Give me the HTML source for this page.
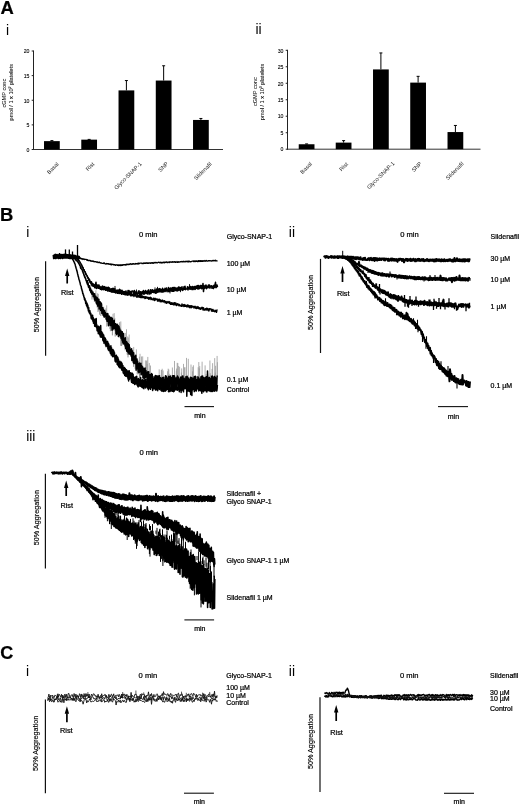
<!DOCTYPE html>
<html><head><meta charset="utf-8"><style>
html,body{margin:0;padding:0;background:#fff;}
svg{display:block;will-change:transform;}
text{font-family:"Liberation Sans",sans-serif;stroke:#000;stroke-width:0.22px;}
</style></head><body>
<svg width="520" height="806" viewBox="0 0 520 806">
<rect width="520" height="806" fill="#fff"/>
<text x="0.6" y="13.9" font-size="18.4" text-anchor="start" font-weight="bold" fill="#000">A</text>
<text x="-0.1" y="220.6" font-size="18.4" text-anchor="start" font-weight="bold" fill="#000">B</text>
<text x="0.2" y="658.7" font-size="18" text-anchor="start" font-weight="bold" fill="#000">C</text>
<text x="5.9" y="34.6" font-size="13.9" text-anchor="start" font-weight="normal" fill="#000" style="stroke:none">i</text>
<text x="255.5" y="33.9" font-size="13.9" text-anchor="start" font-weight="normal" fill="#000" style="stroke:none">ii</text>
<text x="26.3" y="237.3" font-size="13.9" text-anchor="start" font-weight="normal" fill="#000" style="stroke:none">i</text>
<text x="288.8" y="237.4" font-size="13.9" text-anchor="start" font-weight="normal" fill="#000" style="stroke:none">ii</text>
<text x="26.2" y="441.1" font-size="13.9" text-anchor="start" font-weight="normal" fill="#000" style="stroke:none">iii</text>
<text x="25.9" y="675.7" font-size="13.9" text-anchor="start" font-weight="normal" fill="#000" style="stroke:none">i</text>
<text x="288.8" y="675.7" font-size="13.9" text-anchor="start" font-weight="normal" fill="#000" style="stroke:none">ii</text>
<line x1="33.5" y1="50.5" x2="33.5" y2="150" stroke="#222" stroke-width="1"/>
<line x1="33" y1="149.5" x2="223" y2="149.5" stroke="#333" stroke-width="1"/>
<line x1="31.7" y1="149.5" x2="33.5" y2="149.5" stroke="#222" stroke-width="1"/>
<text x="29.5" y="151.75" font-size="6.2" text-anchor="end" font-weight="normal" fill="#000" textLength="2.9" lengthAdjust="spacingAndGlyphs" style="stroke-width:0.1px">0</text>
<line x1="31.7" y1="124.88" x2="33.5" y2="124.88" stroke="#222" stroke-width="1"/>
<text x="29.5" y="127.12" font-size="6.2" text-anchor="end" font-weight="normal" fill="#000" textLength="2.9" lengthAdjust="spacingAndGlyphs" style="stroke-width:0.1px">5</text>
<line x1="31.7" y1="100.25" x2="33.5" y2="100.25" stroke="#222" stroke-width="1"/>
<text x="29.5" y="102.5" font-size="6.2" text-anchor="end" font-weight="normal" fill="#000" textLength="5.8" lengthAdjust="spacingAndGlyphs" style="stroke-width:0.1px">10</text>
<line x1="31.7" y1="75.62" x2="33.5" y2="75.62" stroke="#222" stroke-width="1"/>
<text x="29.5" y="77.88" font-size="6.2" text-anchor="end" font-weight="normal" fill="#000" textLength="5.8" lengthAdjust="spacingAndGlyphs" style="stroke-width:0.1px">15</text>
<line x1="31.7" y1="51" x2="33.5" y2="51" stroke="#222" stroke-width="1"/>
<text x="29.5" y="53.25" font-size="6.2" text-anchor="end" font-weight="normal" fill="#000" textLength="5.8" lengthAdjust="spacingAndGlyphs" style="stroke-width:0.1px">20</text>
<rect x="44.02" y="141.13" width="15.75" height="8.37" fill="#000"/>
<line x1="51.9" y1="140.63" x2="51.9" y2="141.13" stroke="#000" stroke-width="1"/>
<line x1="50.4" y1="140.63" x2="53.4" y2="140.63" stroke="#000" stroke-width="1"/>
<text transform="translate(54.2 169.45) rotate(-45)" font-size="5.6" text-anchor="middle" font-weight="normal" fill="#222" style="stroke:none">Basal</text>
<rect x="81.28" y="139.65" width="15.75" height="9.85" fill="#000"/>
<line x1="89.15" y1="139.4" x2="89.15" y2="139.65" stroke="#000" stroke-width="1"/>
<line x1="87.65" y1="139.4" x2="90.65" y2="139.4" stroke="#000" stroke-width="1"/>
<text transform="translate(91.45 167.95) rotate(-45)" font-size="5.6" text-anchor="middle" font-weight="normal" fill="#222" style="stroke:none">Rist</text>
<rect x="118.53" y="90.4" width="15.75" height="59.1" fill="#000"/>
<line x1="126.4" y1="80.55" x2="126.4" y2="90.4" stroke="#000" stroke-width="1"/>
<line x1="124.9" y1="80.55" x2="127.9" y2="80.55" stroke="#000" stroke-width="1"/>
<text transform="translate(129.3 177.1) rotate(-45)" font-size="5.6" text-anchor="middle" font-weight="normal" fill="#222" style="stroke:none">Glyco-SNAP-1</text>
<rect x="155.78" y="80.55" width="15.75" height="68.95" fill="#000"/>
<line x1="163.65" y1="65.78" x2="163.65" y2="80.55" stroke="#000" stroke-width="1"/>
<line x1="162.15" y1="65.78" x2="165.15" y2="65.78" stroke="#000" stroke-width="1"/>
<text transform="translate(164.6 168.1) rotate(-45)" font-size="5.6" text-anchor="middle" font-weight="normal" fill="#222" style="stroke:none">SNP</text>
<rect x="193.03" y="119.95" width="15.75" height="29.55" fill="#000"/>
<line x1="200.9" y1="118.47" x2="200.9" y2="119.95" stroke="#000" stroke-width="1"/>
<line x1="199.4" y1="118.47" x2="202.4" y2="118.47" stroke="#000" stroke-width="1"/>
<text transform="translate(204.2 172.45) rotate(-45)" font-size="5.6" text-anchor="middle" font-weight="normal" fill="#222" style="stroke:none">Sildenafil</text>
<line x1="287.5" y1="49.8" x2="287.5" y2="149.7" stroke="#222" stroke-width="1"/>
<line x1="287" y1="149.2" x2="480.5" y2="149.2" stroke="#333" stroke-width="1"/>
<line x1="285.7" y1="149.2" x2="287.5" y2="149.2" stroke="#222" stroke-width="1"/>
<text x="283.5" y="151.45" font-size="6.2" text-anchor="end" font-weight="normal" fill="#000" textLength="2.9" lengthAdjust="spacingAndGlyphs" style="stroke-width:0.1px">0</text>
<line x1="285.7" y1="132.72" x2="287.5" y2="132.72" stroke="#222" stroke-width="1"/>
<text x="283.5" y="134.97" font-size="6.2" text-anchor="end" font-weight="normal" fill="#000" textLength="2.9" lengthAdjust="spacingAndGlyphs" style="stroke-width:0.1px">5</text>
<line x1="285.7" y1="116.23" x2="287.5" y2="116.23" stroke="#222" stroke-width="1"/>
<text x="283.5" y="118.48" font-size="6.2" text-anchor="end" font-weight="normal" fill="#000" textLength="5.8" lengthAdjust="spacingAndGlyphs" style="stroke-width:0.1px">10</text>
<line x1="285.7" y1="99.75" x2="287.5" y2="99.75" stroke="#222" stroke-width="1"/>
<text x="283.5" y="102" font-size="6.2" text-anchor="end" font-weight="normal" fill="#000" textLength="5.8" lengthAdjust="spacingAndGlyphs" style="stroke-width:0.1px">15</text>
<line x1="285.7" y1="83.27" x2="287.5" y2="83.27" stroke="#222" stroke-width="1"/>
<text x="283.5" y="85.52" font-size="6.2" text-anchor="end" font-weight="normal" fill="#000" textLength="5.8" lengthAdjust="spacingAndGlyphs" style="stroke-width:0.1px">20</text>
<line x1="285.7" y1="66.78" x2="287.5" y2="66.78" stroke="#222" stroke-width="1"/>
<text x="283.5" y="69.03" font-size="6.2" text-anchor="end" font-weight="normal" fill="#000" textLength="5.8" lengthAdjust="spacingAndGlyphs" style="stroke-width:0.1px">25</text>
<line x1="285.7" y1="50.3" x2="287.5" y2="50.3" stroke="#222" stroke-width="1"/>
<text x="283.5" y="52.55" font-size="6.2" text-anchor="end" font-weight="normal" fill="#000" textLength="5.8" lengthAdjust="spacingAndGlyphs" style="stroke-width:0.1px">30</text>
<rect x="298.73" y="144.25" width="15.75" height="4.94" fill="#000"/>
<line x1="306.6" y1="143.93" x2="306.6" y2="144.25" stroke="#000" stroke-width="1"/>
<line x1="305.1" y1="143.93" x2="308.1" y2="143.93" stroke="#000" stroke-width="1"/>
<text transform="translate(307.5 169.2) rotate(-45)" font-size="5.6" text-anchor="middle" font-weight="normal" fill="#222" style="stroke:none">Basal</text>
<rect x="335.73" y="142.61" width="15.75" height="6.59" fill="#000"/>
<line x1="343.6" y1="140.63" x2="343.6" y2="142.61" stroke="#000" stroke-width="1"/>
<line x1="342.1" y1="140.63" x2="345.1" y2="140.63" stroke="#000" stroke-width="1"/>
<text transform="translate(344.85 168.05) rotate(-45)" font-size="5.6" text-anchor="middle" font-weight="normal" fill="#222" style="stroke:none">Rist</text>
<rect x="373.02" y="69.42" width="15.75" height="79.78" fill="#000"/>
<line x1="380.9" y1="52.94" x2="380.9" y2="69.42" stroke="#000" stroke-width="1"/>
<line x1="379.4" y1="52.94" x2="382.4" y2="52.94" stroke="#000" stroke-width="1"/>
<text transform="translate(382 176.75) rotate(-45)" font-size="5.6" text-anchor="middle" font-weight="normal" fill="#222" style="stroke:none">Glyco-SNAP-1</text>
<rect x="410.23" y="82.61" width="15.75" height="66.59" fill="#000"/>
<line x1="418.1" y1="76.34" x2="418.1" y2="82.61" stroke="#000" stroke-width="1"/>
<line x1="416.6" y1="76.34" x2="419.6" y2="76.34" stroke="#000" stroke-width="1"/>
<text transform="translate(418 168.1) rotate(-45)" font-size="5.6" text-anchor="middle" font-weight="normal" fill="#222" style="stroke:none">SNP</text>
<rect x="447.52" y="132.06" width="15.75" height="17.14" fill="#000"/>
<line x1="455.4" y1="125.46" x2="455.4" y2="132.06" stroke="#000" stroke-width="1"/>
<line x1="453.9" y1="125.46" x2="456.9" y2="125.46" stroke="#000" stroke-width="1"/>
<text transform="translate(456.1 172.2) rotate(-45)" font-size="5.6" text-anchor="middle" font-weight="normal" fill="#222" style="stroke:none">Sildenafil</text>
<text transform="translate(6.3 93.2) rotate(-90)" font-size="5.6" text-anchor="middle" font-weight="normal" fill="#111" style="stroke-width:0.05px">cGMP conc</text>
<text transform="translate(12.6 92.2) rotate(-90)" font-size="5.6" text-anchor="middle" font-weight="normal" fill="#111" style="stroke-width:0.05px">pmol / 1 x 10<tspan dy="-2" font-size="3.6">9</tspan><tspan dy="2"> platelets</tspan></text>
<text transform="translate(257 91.7) rotate(-90)" font-size="5.6" text-anchor="middle" font-weight="normal" fill="#111" style="stroke-width:0.05px">cGMP conc</text>
<text transform="translate(263.9 92) rotate(-90)" font-size="5.6" text-anchor="middle" font-weight="normal" fill="#111" style="stroke-width:0.05px">pmol / 1 x 10<tspan dy="-2" font-size="3.6">9</tspan><tspan dy="2"> platelets</tspan></text>
<line x1="45.6" y1="261.2" x2="45.6" y2="355.7" stroke="#111" stroke-width="1.2"/>
<text transform="translate(38.6 304.7) rotate(-90)" font-size="7.25" text-anchor="middle" font-weight="normal" fill="#000" style="stroke-width:0.15px">50% Aggregation</text>
<path d="M67.2 268.4 L65 275.9 L69.4 275.9 Z" fill="#000"/>
<line x1="67.2" y1="275.4" x2="67.2" y2="283.5" stroke="#000" stroke-width="1.7"/>
<text x="61" y="294.7" font-size="7.3" text-anchor="start" font-weight="normal" fill="#000">Rist</text>
<text x="139" y="237.1" font-size="7.6" text-anchor="start" font-weight="normal" fill="#000">0 min</text>
<line x1="184.5" y1="406.6" x2="214" y2="406.6" stroke="#111" stroke-width="1.1"/>
<text x="199.9" y="417.7" font-size="7" text-anchor="middle" font-weight="normal" fill="#000">min</text>
<line x1="320.5" y1="258.9" x2="320.5" y2="353" stroke="#111" stroke-width="1.2"/>
<text transform="translate(313.4 302.5) rotate(-90)" font-size="7.25" text-anchor="middle" font-weight="normal" fill="#000" style="stroke-width:0.15px">50% Aggregation</text>
<path d="M342.5 266.1 L340.3 273.6 L344.7 273.6 Z" fill="#000"/>
<line x1="342.5" y1="273.1" x2="342.5" y2="282" stroke="#000" stroke-width="1.7"/>
<text x="336.9" y="296.2" font-size="7.3" text-anchor="start" font-weight="normal" fill="#000">Rist</text>
<text x="400.2" y="237" font-size="7.6" text-anchor="start" font-weight="normal" fill="#000">0 min</text>
<line x1="438" y1="406.6" x2="468" y2="406.6" stroke="#111" stroke-width="1.1"/>
<text x="453.4" y="418.5" font-size="7" text-anchor="middle" font-weight="normal" fill="#000">min</text>
<line x1="45.4" y1="473.8" x2="45.4" y2="568.6" stroke="#111" stroke-width="1.2"/>
<text transform="translate(38.6 517.7) rotate(-90)" font-size="7.25" text-anchor="middle" font-weight="normal" fill="#000" style="stroke-width:0.15px">50% Aggregation</text>
<path d="M66.2 480.5 L64 488 L68.4 488 Z" fill="#000"/>
<line x1="66.2" y1="487.5" x2="66.2" y2="496" stroke="#000" stroke-width="1.7"/>
<text x="60.4" y="507.5" font-size="7.3" text-anchor="start" font-weight="normal" fill="#000">Rist</text>
<text x="139.4" y="455" font-size="7.6" text-anchor="start" font-weight="normal" fill="#000">0 min</text>
<line x1="184.4" y1="619.9" x2="214.1" y2="619.9" stroke="#111" stroke-width="1.1"/>
<text x="199.8" y="630.5" font-size="7" text-anchor="middle" font-weight="normal" fill="#000">min</text>
<line x1="45.4" y1="699.4" x2="45.4" y2="793.3" stroke="#111" stroke-width="1.2"/>
<text transform="translate(38.2 743.3) rotate(-90)" font-size="7.25" text-anchor="middle" font-weight="normal" fill="#000" style="stroke-width:0.15px">50% Aggregation</text>
<path d="M66.9 706.3 L64.7 713.8 L69.1 713.8 Z" fill="#000"/>
<line x1="66.9" y1="713.3" x2="66.9" y2="722.3" stroke="#000" stroke-width="1.7"/>
<text x="60" y="733.3" font-size="7.3" text-anchor="start" font-weight="normal" fill="#000">Rist</text>
<text x="138.6" y="677.5" font-size="7.6" text-anchor="start" font-weight="normal" fill="#000">0 min</text>
<line x1="184" y1="793.2" x2="213.9" y2="793.2" stroke="#111" stroke-width="1.1"/>
<text x="199.3" y="804.3" font-size="7" text-anchor="middle" font-weight="normal" fill="#000">min</text>
<line x1="320" y1="697.2" x2="320" y2="792" stroke="#111" stroke-width="1.2"/>
<text transform="translate(313.2 741.5) rotate(-90)" font-size="7.25" text-anchor="middle" font-weight="normal" fill="#000" style="stroke-width:0.15px">50% Aggregation</text>
<path d="M336.2 705 L334 712.5 L338.4 712.5 Z" fill="#000"/>
<line x1="336.2" y1="712" x2="336.2" y2="721" stroke="#000" stroke-width="1.7"/>
<text x="330.3" y="735" font-size="7.3" text-anchor="start" font-weight="normal" fill="#000">Rist</text>
<text x="400" y="678" font-size="7.6" text-anchor="start" font-weight="normal" fill="#000">0 min</text>
<line x1="444" y1="793.3" x2="474" y2="793.3" stroke="#111" stroke-width="1.1"/>
<text x="459.2" y="804.3" font-size="7" text-anchor="middle" font-weight="normal" fill="#000">min</text>
<text x="226.7" y="239.2" font-size="7" text-anchor="start" font-weight="normal" fill="#000">Glyco-SNAP-1</text>
<text x="226.7" y="266.2" font-size="7" text-anchor="start" font-weight="normal" fill="#000">100 µM</text>
<text x="226.7" y="292.1" font-size="7" text-anchor="start" font-weight="normal" fill="#000">10 µM</text>
<text x="226.7" y="315.2" font-size="7" text-anchor="start" font-weight="normal" fill="#000">1 µM</text>
<text x="226.7" y="381.5" font-size="7" text-anchor="start" font-weight="normal" fill="#000">0.1 µM</text>
<text x="226.7" y="391.7" font-size="7" text-anchor="start" font-weight="normal" fill="#000">Control</text>
<text x="490.6" y="239" font-size="7" text-anchor="start" font-weight="normal" fill="#000">Sildenafil</text>
<text x="490.6" y="261.3" font-size="7" text-anchor="start" font-weight="normal" fill="#000">30 µM</text>
<text x="490.6" y="282" font-size="7" text-anchor="start" font-weight="normal" fill="#000">10 µM</text>
<text x="490.6" y="308.6" font-size="7" text-anchor="start" font-weight="normal" fill="#000">1 µM</text>
<text x="490.6" y="388" font-size="7" text-anchor="start" font-weight="normal" fill="#000">0.1 µM</text>
<text x="226.6" y="495.9" font-size="7" text-anchor="start" font-weight="normal" fill="#000">Sildenafil  +</text>
<text x="226.6" y="504.2" font-size="7" text-anchor="start" font-weight="normal" fill="#000">Glyco SNAP-1</text>
<text x="226.6" y="563" font-size="7" text-anchor="start" font-weight="normal" fill="#000">Glyco SNAP-1 1 µM</text>
<text x="226.6" y="600" font-size="7" text-anchor="start" font-weight="normal" fill="#000">Sildenafil 1 µM</text>
<text x="226.3" y="677.7" font-size="7" text-anchor="start" font-weight="normal" fill="#000">Glyco-SNAP-1</text>
<text x="226.3" y="690.4" font-size="7" text-anchor="start" font-weight="normal" fill="#000">100 µM</text>
<text x="226.3" y="697.5" font-size="7" text-anchor="start" font-weight="normal" fill="#000">10 µM</text>
<text x="226.3" y="705.2" font-size="7" text-anchor="start" font-weight="normal" fill="#000">Control</text>
<text x="490" y="678" font-size="7" text-anchor="start" font-weight="normal" fill="#000">Sildenafil</text>
<text x="490" y="695" font-size="7" text-anchor="start" font-weight="normal" fill="#000">30 µM</text>
<text x="490" y="701.3" font-size="7" text-anchor="start" font-weight="normal" fill="#000">10 µM</text>
<text x="490" y="711.3" font-size="7" text-anchor="start" font-weight="normal" fill="#000">Control</text>
<path d="M53.5 254.99 53.85 258.29 54.2 255.19 54.55 257.88 54.9 255.16 55.25 254.62 55.6 258.36 55.95 255.1 56.3 255.03 56.65 257.88 57 254.79 57.35 257.67 57.7 255.31 58.05 257.95 58.4 255.17 58.75 258.28 59.1 254.8 59.45 258.05 59.8 254.86 60.15 256.82 60.5 258.23 60.85 254.66 61.2 257.75 61.55 254.88 61.9 257.75 62.25 255.02 62.6 258.24 62.95 254.68 63.3 254.78 63.65 257.67 64 255.09 64.35 257.76 64.7 254.6 65.05 255.26 65.4 257.84 65.75 255.11 66.1 257.72 66.45 254.74 66.8 254.93 67.15 257.82 67.5 255.06 67.85 257.79 68.2 255 68.55 257.94 68.9 257.81 69.25 255.43 69.6 258.23 69.95 255.07 70.3 258.07 70.65 258.3 71 255.41 71.35 257.92 71.7 255.53 72.05 258.09 72.4 255.22 72.75 257.9 73.1 255.86 73.45 258.18 73.8 255.42 74.15 258.38 74.5 255.7 74.85 257.9 75.2 255.77 75.55 256.83 75.9 256.25 76.25 258.15 76.6 256.42 76.95 258.34 77.3 258.3 77.65 256.26 78 258.34 78.35 256.64 78.7 258.38 79.05 256.78 79.4 258.15 79.75 256.87" fill="none" stroke="#000" stroke-width="2" stroke-linejoin="round"/>
<line x1="65.5" y1="256" x2="65.5" y2="249.4" stroke="#000" stroke-width="1.3"/>
<line x1="69.3" y1="256" x2="69.3" y2="249.6" stroke="#000" stroke-width="1.3"/>
<line x1="77.5" y1="256" x2="77.5" y2="245" stroke="#000" stroke-width="1.3"/>
<line x1="72.5" y1="256" x2="72.5" y2="251.5" stroke="#000" stroke-width="1.3"/>
<line x1="59.5" y1="256" x2="59.5" y2="253" stroke="#000" stroke-width="1.3"/>
<path d="M74 256.67 74.5 256.77 75 257.37 75.5 257.44 76 257.34 76.5 258 77 258 77.5 257.36 78 258.12 78.5 257.66 79 258.02 79.5 258.4 80 258.17 80.5 258.19 81 258.88 81.5 258.43 82 259.06 82.5 258.64 83 259.49 83.5 258.92 84 258.9 84.5 259.52 85 259.29 85.5 259.34 86 259.43 86.5 259.67 87 260.2 87.5 259.65 88 260.51 88.5 260.6 89 260.3 89.5 260.64 90 260.47 90.5 260.61 91 261.31 91.5 261.06 92 260.86 92.5 261.31 93 260.98 93.5 261.52 94 261.4 94.5 261.51 95 261.92 95.5 261.54 96 261.56 96.5 262.22 97 261.95 97.5 261.85 98 262.69 98.5 262.56 99 262.14 99.5 262.22 100 262.85 100.5 263.09 101 262.7 101.5 263.12 102 263.28 102.5 263.37 103 263.43 103.5 262.97 104 263.5 104.5 263.04 105 263.68 105.5 263.99 106 263.93 106.5 263.54 107 263.97 107.5 263.64 108 263.76 108.5 263.75 109 264.41 109.5 264.11 110 263.9 110.5 264.47 111 264.04 111.5 264.88 112 264.14 112.5 264.3 113 264.54 113.5 264.5 114 265.05 114.5 264.53 115 264.67 115.5 265.27 116 265.14 116.5 264.79 117 264.75 117.5 265.3 118 264.94 118.5 265.53 119 264.76 119.5 265.49 120 264.88 120.5 265.52 121 264.69 121.5 265.49 122 264.86 122.5 265.26 123 264.73 123.5 264.61 124 265.06 124.5 264.71 125 264.53 125.5 265.06 126 264.92 126.5 264.19 127 264.82 127.5 264.33 128 264.08 128.5 264.67 129 264.16 129.5 264.49 130 263.8 130.5 263.74 131 264.44 131.5 263.87 132 264.36 132.5 263.79 133 264.12 133.5 263.58 134 264.05 134.5 263.99 135 264.18 135.5 263.55 136 263.99 136.5 263.54 137 263.74 137.5 263.42 138 264.01 138.5 263.18 139 263.91 139.5 263.37 140 263.12 140.5 263.18 141 263.16 141.5 263.03 142 263.56 142.5 263.61 143 263.13 143.5 263.52 144 262.98 144.5 263.39 145 263.03 145.5 263.44 146 262.91 146.5 262.78 147 263.45 147.5 263.4 148 262.68 148.5 263.23 149 263.17 149.5 262.79 150 263.14 150.5 263.27 151 262.66 151.5 262.8 152 263.26 152.5 262.6 153 263.11 153.5 263.27 154 262.43 154.5 262.63 155 262.93 155.5 262.34 156 262.89 156.5 262.36 157 262.9 157.5 262.9 158 262.37 158.5 262.21 159 262.52 159.5 262.74 160 262.23 160.5 262.79 161 262.34 161.5 262.95 162 262.31 162.5 262.82 163 262.89 163.5 262.07 164 262.07 164.5 262.74 165 261.99 165.5 262.17 166 262.65 166.5 261.94 167 261.88 167.5 262.69 168 262.67 168.5 262.11 169 261.99 169.5 262.45 170 261.77 170.5 261.92 171 262.32 171.5 262.02 172 262.3 172.5 261.71 173 262.16 173.5 261.89 174 262.23 174.5 261.72 175 261.77 175.5 262.38 176 262.11 176.5 262.22 177 261.54 177.5 262.32 178 262.28 178.5 261.72 179 262.21 179.5 262.15 180 261.56 180.5 261.68 181 261.91 181.5 261.38 182 261.85 182.5 261.5 183 261.87 183.5 261.31 184 261.87 184.5 261.76 185 261.39 185.5 261.8 186 261.23 186.5 261.36 187 261.88 187.5 261.24 188 261.92 188.5 261.13 189 261.71 189.5 261.19 190 261.69 190.5 261.82 191 261.54 191.5 261.62 192 261.08 192.5 261.1 193 261.02 193.5 261.58 194 261.05 194.5 261.61 195 261.05 195.5 261.55 196 260.87 196.5 261.34 197 260.98 197.5 261.6 198 261.59 198.5 260.69 199 261.22 199.5 260.71 200 261.51 200.5 260.65 201 261.39 201.5 260.7 202 261.36 202.5 260.7 203 261.35 203.5 260.69 204 261.11 204.5 261.05 205 260.49 205.5 261.25 206 261.03 206.5 260.47 207 261.04 207.5 261.14 208 261.03 208.5 260.63 209 260.93 209.5 260.64 210 260.86 210.5 260.84 211 260.59 211.5 261.08 212 260.95 212.5 260.52 213 260.92 213.5 260.34 214 260.88 214.5 260.43 215 260.83 215.5 260.16 216 260.78 216.5 260.8 217 260.94 217.5 260.67" fill="none" stroke="#000" stroke-width="1.3" stroke-linejoin="round"/>
<path d="M77.5 258.62 V255.83M84 269.64 V271.42M93.5 284.18 V286.83M100.5 289.29 V286.57M110.5 291.48 V288.49M115 288.73 V285.96M130.5 291.54 V294.25M131 295.17 V296.54M136.5 291.7 V289.48M149 292.91 V295.08M153 292.18 V290.81M155 289.78 V287.42M157.5 290.15 V286.87M170 290.76 V293.46M171 290.75 V288.61M180.5 290.41 V292.18M189.5 286.99 V284.09" stroke="#000" stroke-width="0.9" fill="none"/>
<path d="M75 257.32 75.5 257.83 76 257.96 76.5 257.87 77 258.54 77.5 258.62 78 259.58 78.5 259.86 79 261.02 79.5 261.48 80 262.66 80.5 263.19 81 264.56 81.5 264.82 82 266.3 82.5 266.8 83 267.69 83.5 269.35 84 269.64 84.5 271.49 85 271.8 85.5 273.45 86 274.42 86.5 275.34 87 275.76 87.5 276.61 88 278.26 88.5 278.3 89 280.22 89.5 279.62 90 282.48 90.5 282.84 91 281.7 91.5 282.01 92 285.69 92.5 283.39 93 286.1 93.5 284.18 94 284.77 94.5 287.17 95 287.98 95.5 284.34 96 282.19 96.5 288.5 97 284.98 97.5 287.82 98 285.01 98.5 288.29 99 285.11 99.5 288.45 100 286.57 100.5 289.29 101 288.43 101.5 289.74 102 286.51 102.5 286.05 103 288.81 103.5 289.7 104 286.54 104.5 289.27 105 286.87 105.5 289.51 106 287.56 106.5 290.08 107 287.28 107.5 288.16 108 290.12 108.5 287.34 109 291.19 109.5 288.08 110 290.72 110.5 291.48 111 291.23 111.5 288.73 112 292.1 112.5 289.11 113 288.25 113.5 292 114 288.7 114.5 292.31 115 288.73 115.5 292.82 116 292.99 116.5 292.02 117 290.06 117.5 293.26 118 290.21 118.5 290.28 119 293.44 119.5 289.29 120 289.59 120.5 293.28 121 290.55 121.5 294.25 122 290.15 122.5 293.85 123 291.49 123.5 293.31 124 291.64 124.5 294.61 125 291.39 125.5 293.51 126 290.91 126.5 293.64 127 294.23 127.5 294.91 128 290.55 128.5 293.81 129 290.51 129.5 291.38 130 294.34 130.5 291.54 131 295.17 131.5 291.61 132 290.91 132.5 291.12 133 291.03 133.5 293.78 134 294.51 134.5 290.55 135 294.59 135.5 291.91 136 293.76 136.5 291.7 137 294.94 137.5 293.74 138 293.79 138.5 291.18 139 290.8 139.5 294.46 140 296.42 140.5 291.84 141 291.8 141.5 294.46 142 293.99 142.5 291.39 143 293.78 143.5 290.5 144 294.48 144.5 291.75 145 293.58 145.5 290.39 146 291.07 146.5 293.45 147 291.49 147.5 293.97 148 290.43 148.5 289.92 149 292.91 149.5 293.79 150 293.85 150.5 289.7 151 293.6 151.5 290.21 152 292.34 152.5 289.76 153 292.18 153.5 290.55 154 292.68 154.5 290.38 155 289.78 155.5 293.2 156 290.11 156.5 292.99 157 288.67 157.5 290.15 158 292.2 158.5 288.97 159 288.87 159.5 291.79 160 288.63 160.5 291.81 161 289.48 161.5 291.92 162 292.01 162.5 288.3 163 291.96 163.5 289.38 164 291.7 164.5 291.28 165 288.23 165.5 289.21 166 291.59 166.5 287.94 167 290.52 167.5 290.42 168 291.73 168.5 287.57 169 288.63 169.5 291.61 170 290.76 170.5 287.96 171 290.75 171.5 288.15 172 291.29 172.5 287.63 173 291.26 173.5 287.53 174 291.15 174.5 287.6 175 287.62 175.5 290.48 176 288.26 176.5 290.69 177 287.97 177.5 290.87 178 288.04 178.5 287 179 290.47 179.5 287.18 180 287.81 180.5 290.41 181 287.4 181.5 289.55 182 286.77 182.5 290.49 183 289.15 183.5 289.62 184 286.67 184.5 289.31 185 286.23 185.5 289.71 186 288.9 186.5 288.98 187 288.93 187.5 286.76 188 289.98 188.5 287.2 189 288.8 189.5 286.99 190 289.35 190.5 286.61 191 289.05 191.5 286.96 192 289.57 192.5 286.42 193 289.57 193.5 287.01 194 288.91 194.5 286.47 195 289.4 195.5 289.15 196 286.17 196.5 288.34 197 285.89 197.5 285.56 198 289.12 198.5 285.41 199 288.8 199.5 286.28 200 288.22 200.5 285.55 201 285.5 201.5 288.71 202 285.5 202.5 288.45 203 283.44 203.5 291.58 204 286.16 204.5 288.48 205 285.54 205.5 287.89 206 285.11 206.5 288.67 207 286.15 207.5 287.81 208 287.49 208.5 285 209 287.68 209.5 285.1 210 288.09 210.5 286.12 211 285.89 211.5 285.81 212 288.33 212.5 287.77 213 285.91 213.5 288.51 214 285.37 214.5 287.28 215 284.71 215.5 282.31 216 287.72 216.5 287.3 217 285.02 217.5 287.2" fill="none" stroke="#000" stroke-width="1.5" stroke-linejoin="round"/>
<path d="M75 257.21 75.5 257.79 76 257.97 76.5 257.86 77 258.71 77.5 258.52 78 259.42 78.5 259.83 79 261.12 79.5 261.42 80 262.79 80.5 263.01 81 264.5 81.5 264.79 82 266.34 82.5 267.21 83 267.82 83.5 269.43 84 269.87 84.5 271.37 85 271.62 85.5 272.83 86 274.21 86.5 274.77 87 275.76 87.5 277.28 88 277.6 88.5 278.27 89 279.95 89.5 280.02 90 281.83 90.5 281.71 91 283.66 91.5 284.53 92 283.98 92.5 285.31 93 284.23 93.5 286.24 94 284.68 94.5 286.47 95 286.96 95.5 285.46 96 287.02 96.5 287.94 97 286.19 97.5 286.51 98 286.68 98.5 288.4 99 287.98 99.5 287.07 100 288.48 100.5 287.31 101 289.12 101.5 287.27 102 287.11 102.5 289.49 103 287.93 103.5 289.41 104 288.35 104.5 289.59 105 288.16 105.5 290.28 106 290.01 106.5 288.77 107 288.48 107.5 290.98 108 290.3 108.5 289.5 109 288.99 109.5 291.03 110 289.53 110.5 289.45 111 289.45 111.5 290.2 112 292.03 112.5 289.61 113 291.75 113.5 290.28 114 291.84 114.5 292.24 115 290.85 115.5 292.41 116 290.43 116.5 290.9 117 290.71 117.5 292.52 118 290.88 118.5 292.68 119 291.7 119.5 293.43 120 291.83 120.5 293.1 121 292.23 121.5 293.92 122 292.5 122.5 293.46 123 291.87 123.5 294.33 124 292.6 124.5 294 125 292.36 125.5 294.75 126 294.75 126.5 292.98 127 294.83 127.5 292.78 128 295.03 128.5 293.8 129 294.82 129.5 293.53 130 293.51 130.5 295.63 131 293.7 131.5 295.52 132 294.24 132.5 295.69 133 294.43 133.5 294.63 134 296.5 134.5 294.93 135 294.97 135.5 294.61 136 296.49 136.5 296.54 137 297.21 137.5 294.82 138 296.71 138.5 295.69 139 297.15 139.5 295.49 140 297.21 140.5 295.66 141 297.69 141.5 295.64 142 297.47 142.5 295.98 143 297.48 143.5 296.68 144 297.65 144.5 296.8 145 298.49 145.5 296.75 146 298.4 146.5 296.85 147 297.16 147.5 298.26 148 297.36 148.5 299.18 149 297.41 149.5 298.97 150 297.67 150.5 297.34 151 299.53 151.5 297.87 152 299.56 152.5 299.57 153 299.84 153.5 298.1 154 300.06 154.5 300.47 155 298.12 155.5 299.92 156 298.87 156.5 299.29 157 299.1 157.5 301.07 158 299.06 158.5 301.1 159 299.84 159.5 299.3 160 301.5 160.5 300.01 161 301.9 161.5 300.49 162 301.6 162.5 300.06 163 301.72 163.5 301.92 164 300.68 164.5 300.61 165 302.7 165.5 301.47 166 302.65 166.5 303.17 167 301.54 167.5 301.8 168 302.88 168.5 301.97 169 301.48 169.5 303.27 170 302.05 170.5 304.28 171 304.2 171.5 302.63 172 304.37 172.5 302.99 173 304.44 173.5 303.07 174 304.99 174.5 302.72 175 302.92 175.5 304.83 176 303.08 176.5 305.57 177 305.1 177.5 303.6 178 305.1 178.5 304.16 179 305.79 179.5 304.39 180 305.85 180.5 305.5 181 306.09 181.5 306.25 182 304.02 182.5 306.09 183 306.17 183.5 304.76 184 306.63 184.5 304.57 185 306.26 185.5 305.16 186 306.36 186.5 305.4 187 307.14 187.5 304.92 188 304.96 188.5 306.78 189 305.65 189.5 307.67 190 305.71 190.5 305.94 191 307.83 191.5 305.63 192 307.41 192.5 306.1 193 306.52 193.5 306.57 194 308.08 194.5 306.66 195 306.24 195.5 308.17 196 306.97 196.5 308.57 197 307.06 197.5 308.23 198 306.56 198.5 308.5 199 307.52 199.5 308.94 200 307.81 200.5 309.39 201 307.91 201.5 308.89 202 307.28 202.5 307.77 203 309.96 203.5 307.6 204 309.95 204.5 309.4 205 310.05 205.5 308.71 206 309.65 206.5 308.18 207 310.09 207.5 308.44 208 308.73 208.5 310.79 209 310.75 209.5 308.59 210 309.13 210.5 308.88 211 308.99 211.5 311.15 212 309.46 212.5 311.18 213 309.51 213.5 311.15 214 311.46 214.5 311.74 215 310.18 215.5 311.53 216 310.54 216.5 312.24 217 310.02 217.5 310.15" fill="none" stroke="#000" stroke-width="1.4" stroke-linejoin="round"/>
<path d="M92 294.04 V299.57M94.4 297.4 V301.8M96.4 300.37 V304.6M97.2 301.64 V307.55M98 302.61 V312.03M98.8 303.21 V310.64M99.2 304.45 V308.46M99.6 304.64 V314.69M100.8 306.29 V315.99M104.8 313.07 V317.65M106.8 316.05 V326.63M108.8 318.66 V324.63M109.6 320.47 V325.41M110 321.05 V328.94M110.4 320.72 V331.22M110.8 321.4 V328.21M112 322.63 V330.79M112.4 323.8 V335.38M114 325.27 V330.8M115.2 326.75 V336.6M116.4 328.52 V335.63M119.2 332.79 V337.76M120.8 335.16 V345.9M121.6 336.03 V346.02M125.2 342.22 V350.39M127.2 346.37 V354.54M127.6 347.16 V354.69M128 347.51 V357.4M128.4 349.04 V353.48M132.4 356.1 V361.3M132.8 356.65 V361.65M133.2 357.52 V362.71M133.6 358.08 V366.83M135.2 361.28 V368.91M137.2 364.89 V374.39M138.4 365.79 V374.19M139.6 368.1 V378.53M140 368.45 V378.25M141.2 370.12 V374.63M142.8 371.15 V376.05M143.2 371.76 V381.19" stroke="#777" stroke-width="0.8" fill="none"/>
<path d="M92 294.04 92.4 294.37 92.8 294.93 93.2 295.47 93.6 296.62 94 296.81 94.4 297.4 94.8 297.6 95.2 298.51 95.6 298.51 96 299 96.4 300.37 96.8 300.1 97.2 301.64 97.6 302.07 98 302.61 98.4 302.46 98.8 303.21 99.2 304.45 99.6 304.64 100 305.46 100.4 305.59 100.8 306.29 101.2 307.25 101.6 308.16 102 308.6 102.4 308.82 102.8 310.24 103.2 310.18 103.6 311.14 104 311.94 104.4 312.33 104.8 313.07 105.2 314.19 105.6 314.39 106 315.1 106.4 316.14 106.8 316.05 107.2 317.26 107.6 317.3 108 317.82 108.4 318.94 108.8 318.66 109.2 319.99 109.6 320.47 110 321.05 110.4 320.72 110.8 321.4 111.2 322.42 111.6 322.57 112 322.63 112.4 323.8 112.8 324.38 113.2 325.04 113.6 324.69 114 325.27 114.4 326.35 114.8 326.08 115.2 326.75 115.6 327.43 116 327.89 116.4 328.52 116.8 329.37 117.2 329.65 117.6 330.21 118 330.69 118.4 330.86 118.8 331.67 119.2 332.79 119.6 333.31 120 333.78 120.4 334.18 120.8 335.16 121.2 335.59 121.6 336.03 122 336.85 122.4 337.23 122.8 338.31 123.2 338.78 123.6 339.97 124 340.76 124.4 341.66 124.8 342.25 125.2 342.22 125.6 343.64 126 344.47 126.4 345.28 126.8 345.64 127.2 346.37 127.6 347.16 128 347.51 128.4 349.04 128.8 349.8 129.2 349.82 129.6 351.26 130 351.27 130.4 351.92 130.8 353.34 131.2 354.2 131.6 354.36 132 355.88 132.4 356.1 132.8 356.65 133.2 357.52 133.6 358.08 134 359.48 134.4 359.71 134.8 360.82 135.2 361.28 135.6 361.61 136 362.72 136.4 363.72 136.8 363.54 137.2 364.89 137.6 364.62 138 365.64 138.4 365.79 138.8 367.15 139.2 367.24 139.6 368.1 140 368.45 140.4 368.7 140.8 369.01 141.2 370.12 141.6 370.61 142 370.98 142.4 371.46 142.8 371.15 143.2 371.76 143.6 372.52 144 372.46 144.4 373.37 144.8 374.11 145.2 373.89 145.6 374.59" fill="none" stroke="#000" stroke-width="0" stroke-linejoin="round"/>
<path d="M71 257.69 71.3 257.57 71.6 257.73 71.9 258.42 72.2 258.49 72.5 259.36 72.8 259.63 73.1 259.66 73.4 260.24 73.7 261.32 74 261.9 74.3 262.01 74.6 263.37 74.9 263.68 75.2 264.62 75.5 265.97 75.8 267.01 76.1 268.22 76.4 268.81 76.7 270.36 77 271.18 77.3 272.26 77.6 273.89 77.9 274.76 78.2 276.43 78.5 277.01 78.8 278.59 79.1 279.84 79.4 280.23 79.7 281.82 80 282.39 80.3 284.22 80.6 285.25 80.9 285.82 81.2 286.45 81.5 288.86 81.8 288.93 82.1 290.84 82.4 290.93 82.7 293.37 83 293.28 83.3 295.19 83.6 295.08 83.9 297.21 84.2 297.19 84.5 299.64 84.8 298.22 85.1 300.53 85.4 300.07 85.7 303.47 86 301 86.3 304.09 86.6 305.88 86.9 303.09 87.2 304.06 87.5 307.82 87.8 305.08 88.1 308.66 88.4 310.98 88.7 307.49 89 311.93 89.3 312.84 89.6 313.22 89.9 310.66 90.2 314.25 90.5 314.81 90.8 313.28 91.1 317.77 91.4 318.78 91.7 318.87 92 315.24 92.3 319.61 92.6 315.25 92.9 321.17 93.2 317.48 93.5 323.29 93.8 318.96 94.1 322.84 94.4 319.78 94.7 326.22 95 319.21 95.3 325.61 95.6 320.94 95.9 326.46 96.2 318.4 96.5 327.66 96.8 324.77 97.1 330.73 97.4 326.16 97.7 331.08 98 326.55 98.3 333.62 98.6 326.34 98.9 332.61 99.2 326.7 99.5 334.76 99.8 330.25 100.1 334.77 100.4 336.93 100.7 325.54 101 335.58 101.3 331.49 101.6 337.14 101.9 332.05 102.2 337.57 102.5 332.92 102.8 340.31 103.1 334.22 103.4 341.16 103.7 335.05 104 343.33 104.3 337.98 104.6 337.56 104.9 338.5 105.2 338.1 105.5 345.03 105.8 339.23 106.1 346.6 106.4 341.49 106.7 341.46 107 345.82 107.3 342.63 107.6 341.37 107.9 349.09 108.2 343.12 108.5 350.1 108.8 344.05 109.1 350.64 109.4 346.08 109.7 350.76 110 350.26 110.3 353.1 110.6 353.27 110.9 345.67 111.2 354.97 111.5 347.68 111.8 353.45 112.1 349.5 112.4 356.13 112.7 356.79 113 349.62 113.3 352.18 113.6 356.39 113.9 351.06 114.2 353.76 114.5 352.79 114.8 357.17 115.1 361.3 115.4 355.74 115.7 362.03 116 355.88 116.3 355.18 116.6 361.52 116.9 356.35 117.2 364.5 117.5 357.05 117.8 357.25 118.1 365.43 118.4 359.02 118.7 366.52 119 361.26 119.3 367.38 119.6 366 119.9 361.3 120.2 367.91 120.5 363.34 120.8 367.87 121.1 362.02 121.4 367.17 121.7 369.98 122 363.34 122.3 370.44 122.6 368.31 122.9 365.39 123.2 372.86 123.5 367.37 123.8 373.8 124.1 368.29 124.4 367.55 124.7 375.44 125 373.18 125.3 368.47 125.6 371.78 125.9 376.37 126.2 374.37 126.5 369.68 126.8 375.6 127.1 370.94 127.4 376.97 127.7 371.03 128 378.94 128.3 371.27 128.6 380.91 128.9 373.37 129.2 370.79 129.5 379.18 129.8 373.27 130.1 372.66 130.4 377.99 130.7 374.64 131 372.95 131.3 380.47 131.6 382.28 131.9 373.77 132.2 373.22 132.5 382.93 132.8 380.58 133.1 374.31 133.4 383.14 133.7 381.55 134 377.54 134.3 381.27 134.6 384.46 134.9 383.16 135.2 376.93 135.5 383.94 135.8 376.95 136.1 377.82 136.4 382.87 136.7 376.2 137 384.96 137.3 379.78 137.6 379.32 137.9 386.66 138.2 386.84 138.5 378.52 138.8 379.17 139.1 385.3 139.4 379.48 139.7 385.74 140 386.3 140.3 384.65 140.6 377.59 140.9 385.12 141.2 385.31 141.5 386.82 141.8 380.21 142.1 387.49 142.4 381.04 142.7 379.78 143 385.5 143.3 388.14 143.6 381.19 143.9 388.79 144.2 381.4 144.5 380.17 144.8 387.11 145.1 378.96 145.4 381.22 145.7 387.93 146 379.43 146.3 386.28 146.6 381 146.9 379.71 147.2 387.12 147.5 382.56 147.8 388.43 148.1 380.15 148.4 389.65 148.7 381.46 149 387.24 149.3 383.35 149.6 388.06 149.9 382.98 150.2 388.9 150.5 389.32 150.8 381.1 151.1 387.63 151.4 380.09 151.7 380.87 152 381.41 152.3 383.04 152.6 390.54 152.9 388.38 153.2 381 153.5 382.37 153.8 388.66 154.1 380.36 154.4 387.77 154.7 382.17 155 381.09 155.3 389.68 155.6 382.62 155.9 390.22 156.2 383.24 156.5 389.3 156.8 389.28 157.1 380.08 157.4 388.13 157.7 390.64 158 383.83 158.3 380.67 158.6 388.78 158.9 380.73 159.2 384.72 159.5 389.41 159.8 381.12 160.1 383.96 160.4 387.46 160.7 381.7 161 390.38 161.3 388.84 161.6 384.23 161.9 391.26 162.2 391.13 162.5 383.32 162.8 390.88 163.1 383.98 163.4 388.86 163.7 391.44 164 384.16 164.3 390.05 164.6 390.6 164.9 381.6 165.2 391.34 165.5 384.37 165.8 390.61 166.1 390.39 166.4 382.79 166.7 388.94 167 381.54 167.3 389.32 167.6 382.24 167.9 389.23 168.2 383.08 168.5 391.63 168.8 383.97 169.1 391.17 169.4 384.52 169.7 391.61 170 382.42 170.3 389.35 170.6 391.04 170.9 382.02 171.2 381.24 171.5 390.72 171.8 390.99 172.1 383.39 172.4 391.17 172.7 377.74 173 389.97 173.3 383.9 173.6 391.77 173.9 383.08 174.2 391.16 174.5 384.61 174.8 389.33 175.1 388.9 175.4 382.08 175.7 389.62 176 381.84 176.3 389.46 176.6 383.64 176.9 389.4 177.2 383.93 177.5 390.33 177.8 378.8 178.1 381.47 178.4 389.5 178.7 384.36 179 387.59 179.3 391.73 179.6 382.8 179.9 384.6 180.2 390.08 180.5 388.91 180.8 383.56 181.1 392.51 181.4 384.67 181.7 390.11 182 390.11 182.3 383.91 182.6 383.23 182.9 382.63 183.2 390.69 183.5 391.86 183.8 382.58 184.1 388.95 184.4 384.14 184.7 388.21 185 388.52 185.3 379.38 185.6 388.3 185.9 383.17 186.2 388.94 186.5 382.49 186.8 396.35 187.1 382.8 187.4 390.83 187.7 388.33 188 384.55 188.3 391.1 188.6 383.94 188.9 384.86 189.2 382.1 189.5 391.4 189.8 382.04 190.1 389.19 190.4 383.36 190.7 394.61 191 384.28 191.3 389.41 191.6 382.3 191.9 395.51 192.2 383.47 192.5 389.05 192.8 381.94 193.1 389.4 193.4 383.35 193.7 382.83 194 384.21 194.3 391.62 194.6 383.74 194.9 391.08 195.2 382.48 195.5 384.32 195.8 388.24 196.1 387.44 196.4 391.06 196.7 384.45 197 381.9 197.3 388.95 197.6 383.53 197.9 388.68 198.2 388.81 198.5 382.61 198.8 391.03 199.1 388.42 199.4 381.78 199.7 382.86 200 390.35 200.3 383.01 200.6 384.47 200.9 381.33 201.2 391.54 201.5 384.53 201.8 393.33 202.1 388.93 202.4 383.31 202.7 389.9 203 381.35 203.3 390.78 203.6 391.82 203.9 381.72 204.2 388.86 204.5 382.05 204.8 390.52 205.1 384.41 205.4 390.37 205.7 382.24 206 384.38 206.3 391.64 206.6 381.32 206.9 392.04 207.2 384.89 207.5 383.56 207.8 388.89 208.1 388.76 208.4 390.54 208.7 383.22 209 390.71 209.3 381.99 209.6 389.84 209.9 384.19 210.2 391.55 210.5 381.13 210.8 389.95 211.1 389.53 211.4 381.34 211.7 391.57 212 384.1 212.3 391.5 212.6 381.39 212.9 391.33 213.2 388.7 213.5 382.13 213.8 384.95 214.1 390.46 214.4 382.72 214.7 391.22 215 389.04 215.3 390.08 215.6 383.45 215.9 388.61 216.2 383.51 216.5 390.93 216.8 390.88 217.1 388.92 217.4 384.85" fill="none" stroke="#000" stroke-width="1.5" stroke-linejoin="round"/>
<path d="M74 258.14 V258.14M77 261.08 V260.24M78.8 263.04 V261.72M79.1 264.08 V263.08M80 265.14 V263.67M80.9 266.95 V265.71M81.2 268.44 V267.66M81.5 269.14 V268.33M82.4 270.53 V269.52M83.3 273.47 V271.02M83.9 275.04 V272.34M85.7 278.49 V275.44M89.6 289.08 V285.74M90.5 288.31 V284.87M94.4 299.28 V294.34M95 300.6 V297.15M95.9 296.34 V290.25M96.5 302.71 V300.29M97.4 299.73 V293.32M97.7 306.1 V300.49M98.3 299.39 V293.8M99.5 307.27 V301.87M100.1 307.34 V301.25M100.7 310.38 V305.86M101.9 313.41 V309.14M102.2 313.53 V308.67M103.1 315.13 V309.67M103.7 313.52 V306.77M104.3 316.97 V312.7M105.8 313.16 V308.41M106.1 319.01 V314.88M106.7 314 V305.35M107 321.3 V313.75M110.3 325.48 V317.37M110.9 325.62 V316.35M113 320.8 V313.82M114.2 320.14 V313.12M114.8 324.49 V318.05M115.4 329.67 V323.07M116.6 334.52 V329.11M117.5 333.83 V328.87M118.4 336.42 V328.25M119.3 334.74 V323.49M119.6 328.03 V322.06M120.8 330.36 V321.43M123.2 343.9 V333.51M123.8 343.33 V338.04M125.3 337.79 V332.89M125.6 348.59 V338.93M126.5 341.66 V329.23M127.7 344.16 V336.48M128.3 343.86 V337.53M129.2 344.83 V334.54M131.9 360.43 V354.19M132.2 360.36 V352.04M133.7 352.85 V346.97M135.5 363.67 V357.71M136.4 361.13 V349.36M139.4 363 V356.7M140 363.82 V353.79M141.5 365.53 V356.47M142.7 367.08 V356.36M143 377.8 V367.22M145.4 377.35 V360.43M146.6 373 V361.12M146.9 373.69 V360.23M147.2 381.05 V364.13M147.8 371.66 V356.93M149.3 375.44 V362.95M150.5 375.26 V365.53M159.2 385.17 V369.38M161.3 386.56 V369.92M161.6 383.03 V370.01M162.2 385.21 V368.76M163.1 377.9 V370.51M167.6 384.64 V371.25M168.2 385.48 V368.7M168.8 376.37 V369.56M169.7 387.2 V373.84M172.4 375.65 V367.52M174.5 376.09 V360.96M176.3 384.02 V370.68M176.6 377.85 V368.56M176.9 386.95 V377.36M177.2 377.37 V362.81M177.8 376.72 V363.08M178.4 377.15 V365.95M179.6 379.73 V366.76M181.4 384.21 V372.55M181.7 377.54 V368.42M183.5 379.55 V363.86M184.4 383.44 V367.45M185 384.51 V367.22M186.5 377.11 V357.91M188.3 377.93 V358.81M191 379.21 V364.52M192.5 389.85 V371.35M192.8 378.32 V366.81M193.4 385.68 V365.28M198.2 385.4 V367.26M198.8 378.03 V362.05M199.4 379.07 V368.38M199.7 386.73 V366.14M200.6 386.93 V378.41M202.1 377.96 V361.69M205.1 377.61 V365.39M206 386.34 V374.16M209 384.97 V376.5M209.9 381.18 V360.49M210.2 385.84 V373.16M210.5 383.97 V375.28M212 383.44 V368.94M212.6 377.93 V363.18M214.4 386.94 V374.81M214.7 376.57 V358.12M215 384.82 V375.22M215.3 383.9 V372.61M215.6 377.77 V365.77M217.1 376.06 V355.91M217.4 376.75 V362.21" stroke="#999" stroke-width="0.8" fill="none"/>
<path d="M74 258.14 74.3 258.43 74.6 258.18 74.9 258.83 75.2 258.74 75.5 259.57 75.8 259.33 76.1 260.48 76.4 259.91 76.7 260.09 77 261.08 77.3 260.81 77.6 261.73 77.9 262.21 78.2 261.93 78.5 263.13 78.8 263.04 79.1 264.08 79.4 264.07 79.7 265.36 80 265.14 80.3 266.4 80.6 268.16 80.9 266.95 81.2 268.44 81.5 269.14 81.8 269.2 82.1 269.6 82.4 270.53 82.7 271.96 83 271.73 83.3 273.47 83.6 273.57 83.9 275.04 84.2 274.92 84.5 276.71 84.8 277.37 85.1 277.11 85.4 278.72 85.7 278.49 86 280.49 86.3 280.19 86.6 282.12 86.9 281.67 87.2 284.03 87.5 280.52 87.8 284.9 88.1 282.69 88.4 286.8 88.7 287.37 89 286.31 89.3 285.77 89.6 289.08 89.9 290.59 90.2 287.95 90.5 288.31 90.8 292.42 91.1 290.14 91.4 293.29 91.7 290.23 92 294.34 92.3 292.13 92.6 294.53 92.9 291.99 93.2 296.6 93.5 293.25 93.8 296.86 94.1 294.07 94.4 299.28 94.7 293.78 95 300.6 95.3 296.79 95.6 300.51 95.9 296.34 96.2 302.89 96.5 302.71 96.8 303.93 97.1 297.44 97.4 299.73 97.7 306.1 98 299.11 98.3 299.39 98.6 305.42 98.9 299.26 99.2 308.94 99.5 307.27 99.8 301.95 100.1 307.34 100.4 301.92 100.7 310.38 101 304.76 101.3 303.13 101.6 304.61 101.9 313.41 102.2 313.53 102.5 307.65 102.8 307.64 103.1 315.13 103.4 309.34 103.7 313.52 104 316.88 104.3 316.97 104.6 310.42 104.9 316.21 105.2 312.14 105.5 316.37 105.8 313.16 106.1 319.01 106.4 319.56 106.7 314 107 321.3 107.3 313.57 107.6 318.23 107.9 313.75 108.2 320.68 108.5 325.78 108.8 322.29 109.1 315.95 109.4 322.01 109.7 317.65 110 317.25 110.3 325.48 110.6 317.98 110.9 325.62 111.2 317.54 111.5 325.76 111.8 321.14 112.1 330.23 112.4 318.2 112.7 325.8 113 320.8 113.3 328.98 113.6 321.39 113.9 327.52 114.2 320.14 114.5 328.16 114.8 324.49 115.1 323.77 115.4 329.67 115.7 323.82 116 333.55 116.3 325.73 116.6 334.52 116.9 332.31 117.2 324.33 117.5 333.83 117.8 325.34 118.1 325.39 118.4 336.42 118.7 333.97 119 326.51 119.3 334.74 119.6 328.03 119.9 335.35 120.2 330.76 120.5 336.67 120.8 330.36 121.1 338.43 121.4 331.58 121.7 333.56 122 340.34 122.3 331.69 122.6 342.25 122.9 334.51 123.2 343.9 123.5 333.42 123.8 343.33 124.1 338.3 124.4 344.05 124.7 339.21 125 345.89 125.3 337.79 125.6 348.59 125.9 346.3 126.2 341.97 126.5 341.66 126.8 351.2 127.1 342.23 127.4 350.99 127.7 344.16 128 352.15 128.3 343.86 128.6 345.58 128.9 354.03 129.2 344.83 129.5 354.08 129.8 347.27 130.1 354.24 130.4 349.28 130.7 355 131 351.33 131.3 356.36 131.6 348.73 131.9 360.43 132.2 360.36 132.5 350.88 132.8 359.68 133.1 354.02 133.4 362.66 133.7 352.85 134 363.59 134.3 362.26 134.6 362.01 134.9 362.91 135.2 355.93 135.5 363.67 135.8 355.26 136.1 370.35 136.4 361.13 136.7 360.33 137 359.05 137.3 368.63 137.6 360.93 137.9 366.29 138.2 371.92 138.5 369.38 138.8 363.57 139.1 372.41 139.4 363 139.7 372.06 140 363.82 140.3 371.02 140.6 366.64 140.9 363.18 141.2 374.74 141.5 365.53 141.8 366.13 142.1 373.74 142.4 373.73 142.7 367.08 143 377.8 143.3 370.18 143.6 375.84 143.9 368.39 144.2 378.98 144.5 369.57 144.8 376.85 145.1 367.99 145.4 377.35 145.7 370.58 146 370.86 146.3 377.04 146.6 373 146.9 373.69 147.2 381.05 147.5 372.66 147.8 371.66 148.1 380.35 148.4 376.54 148.7 371.7 149 380.9 149.3 375.44 149.6 382.54 149.9 376.23 150.2 374.42 150.5 375.26 150.8 382.41 151.1 374.17 151.4 384.53 151.7 373.56 152 384.62 152.3 374.48 152.6 385.56 152.9 376.56 153.2 383.3 153.5 378.26 153.8 383.92 154.1 378.26 154.4 383.01 154.7 376.85 155 383.9 155.3 375.45 155.6 376.74 155.9 385.23 156.2 378.65 156.5 385.35 156.8 375.64 157.1 378.79 157.4 383.9 157.7 376.25 158 378.36 158.3 385.87 158.6 386.59 158.9 375.76 159.2 385.17 159.5 375.82 159.8 386.55 160.1 386.64 160.4 377.77 160.7 385.41 161 378.81 161.3 386.56 161.6 383.03 161.9 378.08 162.2 385.21 162.5 378.39 162.8 377.59 163.1 377.9 163.4 385.66 163.7 377.25 164 386.37 164.3 381.72 164.6 385.95 164.9 379.4 165.2 385.8 165.5 375.75 165.8 383.6 166.1 386.28 166.4 376.31 166.7 379.21 167 385.62 167.3 378.3 167.6 384.64 167.9 387.21 168.2 385.48 168.5 377.67 168.8 376.37 169.1 384.77 169.4 379.13 169.7 387.2 170 379.02 170.3 376 170.6 383.78 170.9 377.79 171.2 383.71 171.5 377.83 171.8 385.45 172.1 386.44 172.4 375.65 172.7 384.24 173 383.38 173.3 375.74 173.6 383.25 173.9 375.83 174.2 386.88 174.5 376.09 174.8 384.88 175.1 378.94 175.4 385.68 175.7 378 176 389.89 176.3 384.02 176.6 377.85 176.9 386.95 177.2 377.37 177.5 376 177.8 376.72 178.1 383.78 178.4 377.15 178.7 383.98 179 379.48 179.3 385.68 179.6 379.73 179.9 383.45 180.2 378.19 180.5 383.96 180.8 377.08 181.1 384.35 181.4 384.21 181.7 377.54 182 385.35 182.3 376.36 182.6 386.54 182.9 376.01 183.2 383.67 183.5 379.55 183.8 386.25 184.1 378.16 184.4 383.44 184.7 385.35 185 384.51 185.3 378.92 185.6 382.89 185.9 376.83 186.2 384.26 186.5 377.11 186.8 384.12 187.1 376.23 187.4 378.19 187.7 385.11 188 379.11 188.3 377.93 188.6 378.68 188.9 386.35 189.2 379.25 189.5 385.34 189.8 384.83 190.1 386.85 190.4 377.18 190.7 385.45 191 379.21 191.3 383.62 191.6 377.38 191.9 386.87 192.2 379.47 192.5 389.85 192.8 378.32 193.1 383.29 193.4 385.68 193.7 377.96 194 385.12 194.3 376.5 194.6 385.67 194.9 378.85 195.2 387.01 195.5 376.14 195.8 377.06 196.1 383.68 196.4 385.7 196.7 379.8 197 384.33 197.3 381.23 197.6 385.02 197.9 376.69 198.2 385.4 198.5 385.75 198.8 378.03 199.1 386.08 199.4 379.07 199.7 386.73 200 386.5 200.3 386.78 200.6 386.93 200.9 376.73 201.2 384.33 201.5 376.22 201.8 386.37 202.1 377.96 202.4 383.57 202.7 375.99 203 384.02 203.3 383.86 203.6 377.65 203.9 386.55 204.2 384.24 204.5 379 204.8 386.25 205.1 377.61 205.4 385.4 205.7 377.5 206 386.34 206.3 376.78 206.6 384.21 206.9 378.41 207.2 387.07 207.5 371.07 207.8 377.72 208.1 384.42 208.4 386.68 208.7 378.73 209 384.97 209.3 377.52 209.6 386.15 209.9 381.18 210.2 385.84 210.5 383.97 210.8 378.52 211.1 386.08 211.4 377.59 211.7 376.3 212 383.44 212.3 376.02 212.6 377.93 212.9 384.31 213.2 383.55 213.5 379.58 213.8 386.99 214.1 376.8 214.4 386.94 214.7 376.57 215 384.82 215.3 383.9 215.6 377.77 215.9 384.08 216.2 379.23 216.5 385.29 216.8 385.35 217.1 376.06 217.4 376.75" fill="none" stroke="#000" stroke-width="1.5" stroke-linejoin="round"/>
<path d="M324 257.45 324.5 256.23 325 256.78 325.5 257.8 326 255.94 326.5 256.18 327 257.31 327.5 256.29 328 256.54 328.5 258.07 329 256.81 329.5 257.28 330 257.36 330.5 256.54 331 256.06 331.5 257.78 332 256.27 332.5 257.33 333 257.45 333.5 256.53 334 257.86 334.5 256.21 335 257.82 335.5 256.63 336 257.48 336.5 256.52 337 256.67 337.5 258.01 338 256.12 338.5 258.05 339 257.46 339.5 256.22 340 256.91 340.5 257.48 341 256.31 341.5 257.66 342 256.21 342.5 257.99 343 256.38 343.5 257.92 344 256.15 344.5 258.13 345 257.43 345.5 258.27 346 256.59 346.5 257.68 347 258.19" fill="none" stroke="#000" stroke-width="2" stroke-linejoin="round"/>
<line x1="342.7" y1="257" x2="342.7" y2="250.8" stroke="#000" stroke-width="1"/>
<path d="M345 256.08 345.5 257.63 346 258.63 346.5 257.77 347 256.94 347.5 256.42 348 256.55 348.5 257.82 349 257.95 349.5 256.75 350 258.43 350.5 256.76 351 258.78 351.5 256.77 352 258.6 352.5 258.77 353 256.82 353.5 258.71 354 257.27 354.5 257.44 355 259.04 355.5 257.33 356 259.2 356.5 257.24 357 258.76 357.5 257.24 358 257.38 358.5 258.86 359 259.14 359.5 257.88 360 259.47 360.5 257.36 361 259.3 361.5 259.27 362 259.43 362.5 259.77 363 258.21 363.5 259.71 364 258.16 364.5 259.75 365 257.75 365.5 259.53 366 259.98 366.5 259.8 367 259.77 367.5 259.84 368 258.51 368.5 259.52 369 258.13 369.5 260.16 370 258.63 370.5 258.23 371 257.95 371.5 260.04 372 260.15 372.5 260.22 373 258.38 373.5 260 374 258.09 374.5 260.9 375 258.29 375.5 260.24 376 258.19 376.5 260.09 377 258.25 377.5 260.45 378 259.72 378.5 258.97 379 259.83 379.5 258.42 380 259.87 380.5 259.77 381 258.51 381.5 259.95 382 258.89 382.5 258.51 383 258.63 383.5 258.52 384 260.13 384.5 258.61 385 260.4 385.5 259.15 386 258.67 386.5 258.78 387 258.76 387.5 260.29 388 260.77 388.5 258.75 389 260.12 389.5 260.76 390 259.22 390.5 260.23 391 258.61 391.5 260.57 392 260.17 392.5 258.68 393 259.06 393.5 260.54 394 259 394.5 258.94 395 260.59 395.5 259.29 396 260.72 396.5 259.15 397 260.16 397.5 261.8 398 259.31 398.5 260.23 399 258.81 399.5 260.25 400 258.93 400.5 258.73 401 259.43 401.5 259.16 402 260.89 402.5 259.18 403 260.63 403.5 259.2 404 262.3 404.5 260.87 405 260.59 405.5 259.53 406 258.81 406.5 260.45 407 258.96 407.5 261.01 408 259.26 408.5 260.41 409 259.25 409.5 260.46 410 260.49 410.5 258.83 411 261.05 411.5 259.46 412 260.79 412.5 259.23 413 260.41 413.5 258.83 414 259.53 414.5 260.43 415 261.17 415.5 259.19 416 261.25 416.5 259.67 417 259.42 417.5 259.13 418 260.8 418.5 258.91 419 260.53 419.5 259.11 420 260.9 420.5 259.63 421 260.77 421.5 259.54 422 259.09 422.5 260.78 423 259.2 423.5 259.13 424 261.29 424.5 260.79 425 260.84 425.5 259.86 426 260.61 426.5 260.77 427 259.06 427.5 259.6 428 260.88 428.5 259.79 429 261.2 429.5 260.8 430 259.49 430.5 260.62 431 259.82 431.5 260.71 432 259.55 432.5 259.65 433 260.86 433.5 259.66 434 261.38 434.5 259.67 435 261.12 435.5 259.45 436 261.19 436.5 259.16 437 259.24 437.5 259.65 438 260.99 438.5 259.64 439 259.26 439.5 260.84 440 261.03 440.5 261.27 441 259.55 441.5 261.23 442 259.41 442.5 260.89 443 260.97 443.5 261.14 444 259.55 444.5 259.34 445 261.24 445.5 260.65 446 260.8 446.5 259.88 447 260.95 447.5 259.95 448 261.11 448.5 259.68 449 260.77 449.5 259.27 450 260.75 450.5 259.4 451 260.89 451.5 261.12 452 261.43 452.5 259.76 453 261.31 453.5 259.6 454 261.34 454.5 258.13 455 260.73 455.5 261.19 456 259.54 456.5 260.77 457 258.27 457.5 259.56 458 260.83 458.5 259.51 459 260.93 459.5 259.25 460 261.23 460.5 261.06 461 259.65 461.5 261.1 462 259.63 462.5 261.32 463 259.37 463.5 261.12 464 259.31 464.5 261.45 465 259.22 465.5 261.27 466 259.53 466.5 260.84 467 259.96 467.5 259.27 468 261.19 468.5 259.4 469 261.32 469.5 259.21 470 259.76" fill="none" stroke="#000" stroke-width="2.1" stroke-linejoin="round"/>
<path d="M368 270.32 V273.04M372 270.83 V273.6M373.5 273.22 V270.22M390 275 V271.47M397 275.84 V279.43M414.5 279.23 V277.18M424 279.07 V281.58M430 277.45 V274.89M435 278.36 V274.9M438 279.73 V276.87M464 278.72 V280.94M464.5 280.24 V278.54M470 278.04 V280.81" stroke="#000" stroke-width="1.1" fill="none"/>
<path d="M345 256.92 345.5 257.63 346 257.41 346.5 257.98 347 257.78 347.5 258.08 348 258.71 348.5 258.46 349 259.15 349.5 258.95 350 259.73 350.5 259.46 351 260.28 351.5 259.91 352 261.16 352.5 260.53 353 261.85 353.5 261.08 354 262.41 354.5 261.77 355 262.9 355.5 262.51 356 263.98 356.5 264.22 357 264.66 357.5 263.87 358 264.24 358.5 265.11 359 261.87 359.5 265.96 360 266.31 360.5 266.28 361 265.35 361.5 266.02 362 267.17 362.5 266.28 363 267.59 363.5 266.96 364 268.59 364.5 267.41 365 268.85 365.5 267.75 366 268.18 366.5 269.92 367 270.05 367.5 268.59 368 270.32 368.5 269.64 369 271.36 369.5 270.06 370 271.9 370.5 270.14 371 270.65 371.5 272.65 372 270.83 372.5 272.92 373 271.36 373.5 273.22 374 271.41 374.5 273.8 375 273.47 375.5 271.93 376 274.09 376.5 274.12 377 272.64 377.5 274.43 378 272.91 378.5 275 379 272.88 379.5 274.46 380 274.71 380.5 273.49 381 275.5 381.5 273.5 382 275.37 382.5 273.32 383 275.71 383.5 274.1 384 275.36 384.5 273.93 385 275.73 385.5 275.37 386 274.19 386.5 276.33 387 274.19 387.5 275.74 388 274.3 388.5 274.82 389 276.68 389.5 274.61 390 275 390.5 274.52 391 274.4 391.5 276.56 392 274.93 392.5 276.26 393 274.87 393.5 275.31 394 275.34 394.5 276.94 395 275.08 395.5 276.62 396 275.29 396.5 276.62 397 275.84 397.5 277.23 398 277.41 398.5 275.64 399 277.44 399.5 275.36 400 275.68 400.5 277.84 401 275.83 401.5 277.88 402 275.77 402.5 277.81 403 276.01 403.5 278.06 404 275.97 404.5 278.23 405 278.26 405.5 276.08 406 276.42 406.5 278.5 407 276.27 407.5 276.64 408 278.54 408.5 278.02 409 277.86 409.5 276.24 410 276.9 410.5 278.33 411 276.76 411.5 278.18 412 276.82 412.5 278.53 413 277.35 413.5 278.6 414 276.82 414.5 279.23 415 276.96 415.5 279.35 416 279.05 416.5 277.29 417 279.14 417.5 277.13 418 276.98 418.5 279.11 419 277.06 419.5 278.93 420 277.61 420.5 279.21 421 277.72 421.5 277.7 422 279.22 422.5 277.31 423 279.4 423.5 277.89 424 279.07 424.5 277.31 425 279.74 425.5 277.54 426 279.17 426.5 278.23 427 279.45 427.5 278.26 428 279.38 428.5 280.17 429 277.89 429.5 279.97 430 277.45 430.5 279.74 431 277.61 431.5 279.87 432 277.96 432.5 280.09 433 279.51 433.5 278.2 434 277.87 434.5 279.61 435 278.36 435.5 279.95 436 277.8 436.5 278.14 437 279.81 437.5 277.92 438 279.73 438.5 279.79 439 278.38 439.5 277.85 440 279.97 440.5 275.63 441 280.05 441.5 277.77 442 280.2 442.5 278.15 443 280.2 443.5 277.96 444 279.75 444.5 278.2 445 279.75 445.5 280.38 446 278.15 446.5 280.5 447 280.02 447.5 280.55 448 279.71 448.5 278.66 449 278.4 449.5 279.92 450 278.26 450.5 278.48 451 280.46 451.5 277.92 452 282.16 452.5 277.93 453 278.67 453.5 279.97 454 277.88 454.5 280.73 455 277.79 455.5 277.84 456 280.33 456.5 277.02 457 278.82 457.5 278.32 458 279.85 458.5 278.25 459 279.94 459.5 275.42 460 278.62 460.5 280.35 461 278.66 461.5 280.28 462 277.91 462.5 280.3 463 277.96 463.5 280.28 464 278.72 464.5 280.24 465 277.96 465.5 280.53 466 280.26 466.5 280.1 467 278.2 467.5 280.32 468 280.78 468.5 280.06 469 277.89 469.5 278.02 470 278.04" fill="none" stroke="#000" stroke-width="2" stroke-linejoin="round"/>
<path d="M346 257.52 V257.58M354 263.62 V264.63M356 265.72 V266.86M357 266.53 V267.77M359.5 270.09 V271.3M363 272.1 V270.33M366 277.08 V274.27M368 279.93 V277.35M369 280.07 V276.9M369.5 281.76 V283.24M370.5 282.9 V279.6M372.5 283.4 V287.04M373 283.7 V287.07M376 286.4 V283.3M376.5 286.86 V283.5M379 290.34 V292.87M379.5 288.92 V284.11M380 290.54 V294.62M384.5 290.89 V294.37M388 292.15 V295.69M388.5 295.74 V293.82M390.5 294.09 V298.8M392 297.03 V299.21M398 297.41 V302.1M398.5 299.95 V294.91M402.5 301.01 V299.07M404.5 299.02 V295.1M405 302 V306.68M406 302.43 V300.17M407.5 302.66 V306.86M408.5 303.33 V307.66M410 300.28 V296.07M412 300.49 V305.97M416 300.76 V296.44M418.5 302.02 V306.87M425.5 302.24 V304.96M429 302.61 V299.62M430 302.75 V299.6M431 302.25 V305.4M433.5 305.54 V310.12M434 302.7 V298.87M434.5 305.22 V300.41M436.5 304.97 V308.67M439 303.07 V298.08M440.5 305.16 V309.37M442.5 305.69 V300.4M445 304.44 V309.54M449 302.93 V298.2M454.5 306.04 V309.27M456.5 306.94 V310.85M466 304.53 V311.37M469 304.77 V308.41M469.5 307 V302.67" stroke="#000" stroke-width="1.3" fill="none"/>
<path d="M345 256.95 345.5 257.6 346 257.52 346.5 258.4 347 258.03 347.5 259.09 348 259.37 348.5 259.17 349 260.09 349.5 260.31 350 260.18 350.5 261.15 351 261.54 351.5 261.37 352 261.63 352.5 263.07 353 262.88 353.5 264.05 354 263.62 354.5 265.01 355 264.58 355.5 265.56 356 265.72 356.5 267.15 357 266.53 357.5 268.04 358 267.36 358.5 269.13 359 268.51 359.5 270.09 360 270.7 360.5 269.89 361 271.54 361.5 271.6 362 271.5 362.5 272.99 363 272.1 363.5 273.85 364 273.65 364.5 273.94 365 276.29 365.5 275.04 366 277.08 366.5 277.94 367 277.63 367.5 279.61 368 279.93 368.5 279.21 369 280.07 369.5 281.76 370 280.66 370.5 282.9 371 281.75 371.5 282.63 372 284.25 372.5 283.4 373 283.7 373.5 286.11 374 285.21 374.5 286.74 375 285.46 375.5 287.87 376 286.4 376.5 286.86 377 287.05 377.5 288.91 378 289.85 378.5 287.64 379 290.34 379.5 288.92 380 290.54 380.5 289.32 381 290.99 381.5 290.2 382 292.59 382.5 290.29 383 293.08 383.5 290.61 384 293.17 384.5 290.89 385 291.67 385.5 291.73 386 294.58 386.5 292.79 387 295.05 387.5 294.44 388 292.15 388.5 295.74 389 295.97 389.5 296.94 390 295.9 390.5 294.09 391 296.86 391.5 295 392 297.03 392.5 297.49 393 297.38 393.5 294.92 394 298.61 394.5 295.26 395 298.35 395.5 295.73 396 299.21 396.5 298.61 397 296.32 397.5 300 398 297.41 398.5 299.95 399 297.02 399.5 299.54 400 297.94 400.5 299.85 401 297.69 401.5 296.49 402 298.68 402.5 301.01 403 298.56 403.5 301.78 404 299.63 404.5 299.02 405 302 405.5 300.01 406 302.43 406.5 300.1 407 302.63 407.5 302.66 408 300.57 408.5 303.33 409 300.47 409.5 303.74 410 300.28 410.5 302.81 411 300.98 411.5 303.31 412 300.49 412.5 303.35 413 303.97 413.5 303.92 414 301.78 414.5 304.48 415 300.66 415.5 303.78 416 300.76 416.5 304.5 417 301.55 417.5 301.33 418 303.89 418.5 302.02 419 303.52 419.5 301.72 420 304.29 420.5 301.15 421 304.29 421.5 301.79 422 301.79 422.5 301.84 423 304.06 423.5 301.85 424 305.04 424.5 300.71 425 304.35 425.5 302.24 426 302.51 426.5 304.45 427 302.07 427.5 305.16 428 302.53 428.5 304.65 429 302.61 429.5 305.54 430 302.75 430.5 304.78 431 302.25 431.5 305.21 432 303.02 432.5 304.78 433 302.76 433.5 305.54 434 302.7 434.5 305.22 435 305.03 435.5 303.35 436 302.11 436.5 304.97 437 303.07 437.5 306.05 438 303.27 438.5 306.01 439 303.07 439.5 305.53 440 303.46 440.5 305.16 441 303.36 441.5 305.42 442 302.97 442.5 305.69 443 303.4 443.5 299.62 444 306.19 444.5 303.67 445 304.44 445.5 305.76 446 305.68 446.5 303.78 447 306.24 447.5 303.41 448 305.57 448.5 306.57 449 302.93 449.5 304.18 450 305.55 450.5 303.22 451 306.21 451.5 303.44 452 306.82 452.5 306.21 453 304 453.5 306.68 454 306.79 454.5 306.04 455 303.49 455.5 303.37 456 306.15 456.5 306.94 457 306.8 457.5 309.17 458 306.34 458.5 306.81 459 304.43 459.5 306.04 460 304.73 460.5 305.99 461 303.91 461.5 306.93 462 304.29 462.5 306.42 463 303.99 463.5 306.85 464 304.81 464.5 304.69 465 304.67 465.5 304.27 466 304.53 466.5 306.83 467 304.74 467.5 305.02 468 304.37 468.5 307.18 469 304.77 469.5 307 470 307.58" fill="none" stroke="#000" stroke-width="2" stroke-linejoin="round"/>
<path d="M350 261.85 V261.14M360.5 275.52 V273.41M366.5 283.92 V280.92M367 287.05 V284.83M369 286.87 V285.3M371.5 289.59 V292.7M374.5 292.89 V291.33M375 296.32 V298.53M375.5 294.27 V292.46M376 297.25 V294.63M380.5 299.14 V301.07M381.5 302.47 V299.8M385.5 301.65 V298.37M396.5 309.89 V315.36M401.5 313.76 V311.75M402.5 314.11 V319.33M407.5 314 V318.97M412 320.45 V323.73M413.5 323.81 V318.36M415.5 325.89 V328.88M417.5 325.41 V319.83M418 328.92 V332.18M422.5 336.26 V341.96M426 343.15 V348.87M426.5 342.31 V336.23M433.5 358.3 V362.92M439 368.15 V365.26M441 365.63 V361.35M444.5 369.15 V374.14M448 371.59 V366.09M453.5 377.04 V381.95M457 382.59 V388.45" stroke="#000" stroke-width="1.1" fill="none"/>
<path d="M345 256.99 345.5 257.73 346 257.7 346.5 258.65 347 258.36 347.5 259.45 348 259.96 348.5 259.61 349 260.72 349.5 260.78 350 261.85 350.5 262.31 351 262.17 351.5 263.82 352 263.61 352.5 265.19 353 264.83 353.5 266.6 354 265.79 354.5 267.92 355 267.46 355.5 269.4 356 269.03 356.5 270.68 357 270.22 357.5 271.93 358 271.41 358.5 273.72 359 273.34 359.5 275.72 360 274.62 360.5 275.52 361 276.29 361.5 278.78 362 277.32 362.5 279.92 363 279.15 363.5 281.66 364 281.05 364.5 281.06 365 283.57 365.5 282.2 366 284.85 366.5 283.92 367 287.05 367.5 287.23 368 285.72 368.5 288.6 369 286.87 369.5 289.68 370 288.18 370.5 289.06 371 291.33 371.5 289.59 372 292.2 372.5 293.04 373 291.37 373.5 294.6 374 292.76 374.5 292.89 375 296.32 375.5 294.27 376 297.25 376.5 295.17 377 297.66 377.5 296.58 378 299.51 378.5 298.88 379 298.06 379.5 297.83 380 301.06 380.5 299.14 381 299.4 381.5 302.47 382 302.16 382.5 300.76 383 303.39 383.5 301.26 384 304.31 384.5 305.23 385 304.09 385.5 301.65 386 304.98 386.5 305.6 387 306.03 387.5 302.9 388 305.75 388.5 306.17 389 306.66 389.5 304.55 390 307.54 390.5 304.92 391 308.35 391.5 305.83 392 308.91 392.5 309.87 393 307.5 393.5 310.67 394 308.59 394.5 307.98 395 311.77 395.5 310.04 396 311.81 396.5 309.89 397 312.51 397.5 314.2 398 311.51 398.5 314.49 399 312.37 399.5 315.63 400 312.55 400.5 313.52 401 316.8 401.5 313.76 402 313.65 402.5 314.11 403 318.04 403.5 317.67 404 318.34 404.5 315.4 405 319.17 405.5 315.22 406 318.81 406.5 312.85 407 319.31 407.5 314 408 316.64 408.5 320.02 409 317.2 409.5 320.87 410 321.22 410.5 319.66 411 318.86 411.5 322.27 412 320.45 412.5 323.68 413 320.18 413.5 323.81 414 321.12 414.5 325.46 415 322.4 415.5 325.89 416 324.31 416.5 323.95 417 328.18 417.5 325.41 418 328.92 418.5 326.49 419 329.98 419.5 327.96 420 329.63 420.5 329.72 421 330.84 421.5 334.11 422 331.82 422.5 336.26 423 334.23 423.5 337.83 424 337.24 424.5 340.53 425 342.15 425.5 339.97 426 343.15 426.5 342.31 427 346.07 427.5 343.46 428 348.28 428.5 345.84 429 350.17 429.5 348.04 430 347.8 430.5 353.62 431 350.69 431.5 355.07 432 353.25 432.5 356.42 433 355.23 433.5 358.3 434 355.79 434.5 356.65 435 358.23 435.5 362.01 436 358.94 436.5 363.17 437 365.23 437.5 361.1 438 365.61 438.5 362.06 439 368.15 439.5 363.9 440 369.12 440.5 368 441 365.63 441.5 369.37 442 366.97 442.5 371.26 443 368.01 443.5 372.18 444 368.33 444.5 369.15 445 369.78 445.5 374.19 446 370.5 446.5 375.61 447 372.29 447.5 376.22 448 371.59 448.5 372.14 449 375.99 449.5 381.3 450 369.36 450.5 373.45 451 378.81 451.5 374.06 452 380 452.5 376.11 453 376.51 453.5 377.04 454 381.08 454.5 376.05 455 381.76 455.5 382.46 456 378.47 456.5 378.19 457 382.59 457.5 379.02 458 382.68 458.5 379.35 459 383.59 459.5 383.95 460 380.89 460.5 384.24 461 379.74 461.5 383.62 462 384.53 462.5 375.07 463 384.49 463.5 380.78 464 380.51 464.5 380.7 465 382.48 465.5 381.72 466 385.38 466.5 381.07 467 385.92 467.5 382.75 468 381.81 468.5 387.11 469 382.34 469.5 387.12 470 381.3" fill="none" stroke="#000" stroke-width="2" stroke-linejoin="round"/>
<path d="M51.7 473.31 52.2 472.47 52.7 472.72 53.2 473.67 53.7 473.12 54.2 472.13 54.7 473.58 55.2 472.62 55.7 472.54 56.2 473.26 56.7 472.39 57.2 472.77 57.7 472.53 58.2 473.62 58.7 472.53 59.2 473.56 59.7 472.57 60.2 473.58 60.7 472.32 61.2 472.46 61.7 472.33 62.2 473.78 62.7 473.57 63.2 472.68 63.7 472.52 64.2 472.54 64.7 473.52 65.2 472.61 65.7 472.78 66.2 472.42 66.7 472.92 67.2 472.82 67.7 473.99 68.2 472.85 68.7 473.67 69.2 473.68 69.7 474.04 70.2 474.04 70.7 473.13 71.2 473.18 71.7 474.07" fill="none" stroke="#000" stroke-width="2" stroke-linejoin="round"/>
<path d="M66.5 473.8 L70.5 470.6 L72.8 469.8 L74.5 473.8 Z" fill="#000" stroke="#000" stroke-width="0.6"/>
<path d="M72 473.38 72.35 474.15 72.7 473.93 73.05 474.59 73.4 474.35 73.75 474.63 74.1 474.91 74.45 475.67 74.8 475.29 75.15 476.22 75.5 475.95 75.85 476.77 76.2 476.35 76.55 476.67 76.9 477.7 77.25 477.18 77.6 478.08 77.95 477.47 78.3 478.65 78.65 477.96 79 479.26 79.35 479.4 79.7 478.55 80.05 479.84 80.4 478.91 80.75 476.93 81.1 480.49 81.45 479.61 81.8 481.21 82.15 480.17 82.5 481.45 82.85 480.63 83.2 483.31 83.55 482.23 83.9 481.32 84.25 482.88 84.6 482.74 84.95 481.95 85.3 483.22 85.65 482.33 86 483.67 86.35 482.48 86.7 482.76 87.05 484.73 87.4 485.01 87.75 483.59 88.1 485.24 88.45 484.15 88.8 485.92 89.15 486.31 89.5 484.52 89.85 484.86 90.2 486.97 90.55 487 90.9 485.41 91.25 487.73 91.6 486.17 91.95 487.79 92.3 486.18 92.65 488.27 93 486.9 93.35 488.97 93.7 487.26 94.05 489.21 94.4 487.7 94.75 490.17 95.1 488.13 95.45 487.88 95.8 490.55 96.15 488.52 96.5 488.48 96.85 490.96 97.2 489.3 97.55 491.51 97.9 489.46 98.25 492.1 98.6 490 98.95 492.15 99.3 492.36 99.65 490.09 100 492.4 100.35 490.4 100.7 493 101.05 490.58 101.4 493.44 101.75 493.47 102.1 490.57 102.45 493.68 102.8 493.63 103.15 490.87 103.5 494 103.85 493.8 104.2 494.41 104.55 491.09 104.9 494.59 105.25 494.57 105.6 491.34 105.95 494.62 106.3 492.14 106.65 495.05 107 492.21 107.35 494.73 107.7 492.21 108.05 491.93 108.4 495.47 108.75 492.06 109.1 495.59 109.45 492.2 109.8 495.12 110.15 492.73 110.5 496.1 110.85 492.52 111.2 495.76 111.55 492.75 111.9 496.31 112.25 492.72 112.6 496.91 112.95 493.1 113.3 497.1 113.65 492.77 114 497.1 114.35 492.96 114.7 497.56 115.05 493.38 115.4 497.83 115.75 493.73 116.1 497.96 116.45 493.88 116.8 497.32 117.15 494.21 117.5 498.15 117.85 494.34 118.2 497.68 118.55 493.87 118.9 494.73 119.25 498.66 119.6 494.13 119.95 498.97 120.3 498.17 120.65 498.91 121 495.19 121.35 498.47 121.7 495.39 122.05 499.3 122.4 494.48 122.75 498.86 123.1 494.47 123.45 498.7 123.8 494.41 124.15 499.47 124.5 494.64 124.85 499.28 125.2 495.49 125.55 499.7 125.9 494.96 126.25 498.63 126.6 499.85 126.95 495.59 127.3 499.7 127.65 499.55 128 495.62 128.35 499.52 128.7 495.4 129.05 498.97 129.4 493.1 129.75 499.15 130.1 495.97 130.45 499.4 130.8 495.08 131.15 499.63 131.5 495.21 131.85 496.05 132.2 499.57 132.55 495.44 132.9 500.38 133.25 495.9 133.6 499.57 133.95 495.89 134.3 499.31 134.65 495.24 135 499.52 135.35 496.06 135.7 499.57 136.05 499.55 136.4 496.44 136.75 499.68 137.1 500.17 137.45 495.84 137.8 499.4 138.15 496.09 138.5 499.89 138.85 500.32 139.2 495.38 139.55 499.55 139.9 496.44 140.25 499.47 140.6 496.13 140.95 499.59 141.3 496.26 141.65 499.43 142 496.28 142.35 496.41 142.7 500.71 143.05 496.38 143.4 500.49 143.75 496.2 144.1 500.37 144.45 496.4 144.8 500.38 145.15 495.9 145.5 500.17 145.85 496.32 146.2 499.92 146.55 495.6 146.9 500.13 147.25 495.72 147.6 500.97 147.95 499.61 148.3 500.75 148.65 496.73 149 500.19 149.35 496.07 149.7 500.08 150.05 496.25 150.4 496.63 150.75 500.05 151.1 500.43 151.45 496.49 151.8 500.78 152.15 496.67 152.5 500.29 152.85 496.44 153.2 499.96 153.55 496.14 153.9 500.25 154.25 496.84 154.6 500.22 154.95 499.9 155.3 496.36 155.65 500.98 156 493.65 156.35 500.55 156.7 496.87 157.05 500.49 157.4 496.7 157.75 501.22 158.1 496.03 158.45 500.37 158.8 496.88 159.15 500.53 159.5 496.9 159.85 497.24 160.2 500.42 160.55 496.71 160.9 496.45 161.25 499.96 161.6 496.99 161.95 500.01 162.3 497.16 162.65 500.6 163 496.57 163.35 500 163.7 496.31 164.05 500.77 164.4 497.22 164.75 501.1 165.1 500.68 165.45 497.23 165.8 501.26 166.15 500.24 166.5 496.22 166.85 496.32 167.2 500.78 167.55 496.45 167.9 500.63 168.25 499.82 168.6 496.82 168.95 500.43 169.3 496.76 169.65 500.98 170 500.65 170.35 496.91 170.7 501.02 171.05 497.02 171.4 501.14 171.75 496.68 172.1 500.02 172.45 496.29 172.8 501.12 173.15 496.85 173.5 500.35 173.85 496.64 174.2 500.2 174.55 500.85 174.9 496.38 175.25 497.2 175.6 500.11 175.95 496.46 176.3 496.9 176.65 500.24 177 495.97 177.35 500.51 177.7 496.77 178.05 501.05 178.4 496.08 178.75 501.2 179.1 496.47 179.45 500.78 179.8 496.77 180.15 500.8 180.5 496.89 180.85 499.99 181.2 495.92 181.55 500.84 181.9 496.22 182.25 501.04 182.6 497.03 182.95 500.75 183.3 495.95 183.65 499.97 184 496.1 184.35 500.15 184.7 496.79 185.05 497.18 185.4 500.99 185.75 500.94 186.1 497.07 186.45 500.77 186.8 496.41 187.15 500.6 187.5 496.13 187.85 501.15 188.2 500.8 188.55 495.97 188.9 500.66 189.25 497.21 189.6 500.69 189.95 496.88 190.3 500.65 190.65 496.47 191 500.02 191.35 496.18 191.7 495.98 192.05 500.82 192.4 500.06 192.75 495.93 193.1 500.22 193.45 496.81 193.8 496.86 194.15 496.59 194.5 501.18 194.85 496.37 195.2 500.53 195.55 495.91 195.9 500.01 196.25 496.37 196.6 501.1 196.95 496.61 197.3 501.01 197.65 496.92 198 500.46 198.35 497.25 198.7 501.24 199.05 496.53 199.4 501.11 199.75 500.62 200.1 496.79 200.45 500.28 200.8 495.91 201.15 500.47 201.5 497.23 201.85 501.28 202.2 498.21 202.55 501.09 202.9 496.62 203.25 500.38 203.6 496.55 203.95 500.45 204.3 501 204.65 497.18 205 496.49 205.35 500.72 205.7 497.01 206.05 500.12 206.4 496.93 206.75 496.82 207.1 500.1 207.45 498.99 207.8 501.13 208.15 496.06 208.5 500.18 208.85 496.33 209.2 500.02 209.55 500.94 209.9 498.76 210.25 496.52 210.6 500.98 210.95 496.14 211.3 501.22 211.65 496.95 212 500.44 212.35 500.36 212.7 501 213.05 500.57 213.4 497.03 213.75 500.95 214.1 496.1 214.45 500.76 214.8 496.85" fill="none" stroke="#000" stroke-width="1.9" stroke-linejoin="round"/>
<path d="M72 473.42 72.35 474.15 72.7 474.52 73.05 474.36 73.4 475.29 73.75 474.91 74.1 475.82 74.45 475.61 74.8 476.57 75.15 476.22 75.5 472.53 75.85 476.64 76.2 478.17 76.55 477.44 76.9 478.69 77.25 478 77.6 479.69 77.95 478.7 78.3 480.42 78.65 479.27 79 478.7 79.35 479.61 79.7 480.38 80.05 481.93 80.4 482.26 80.75 481.01 81.1 479.15 81.45 486.6 81.8 483.48 82.15 482.62 82.5 484.56 82.85 480.43 83.2 485.38 83.55 483.7 83.9 485.58 84.25 484.36 84.6 486.51 84.95 485.26 85.3 487.24 85.65 485.17 86 488.42 86.35 488.55 86.7 488.5 87.05 486.27 87.4 487.05 87.75 490.37 88.1 487.79 88.45 490.47 88.8 488.85 89.15 491.15 89.5 488.98 89.85 492.77 90.2 490.46 90.55 493.39 90.9 491.09 91.25 494.01 91.6 491.9 91.95 494.88 92.3 492.59 92.65 492.9 93 499.69 93.35 493.77 93.7 497.24 94.05 497.95 94.4 494.07 94.75 497.68 95.1 498.67 95.45 495.31 95.8 498.97 96.15 495.52 96.5 499.91 96.85 496.27 97.2 500.73 97.55 497.84 97.9 502.33 98.25 495.14 98.6 502.29 98.95 501.04 99.3 503.68 99.65 499.08 100 503.84 100.35 498.66 100.7 504.06 101.05 500.7 101.4 504.66 101.75 500.11 102.1 499.5 102.45 506.39 102.8 501.51 103.15 505.33 103.5 500.63 103.85 500.86 104.2 506.16 104.55 501.31 104.9 501.75 105.25 506.78 105.6 501.61 105.95 501.78 106.3 508.43 106.65 501.88 107 508.7 107.35 502.46 107.7 503.5 108.05 507.99 108.4 502.67 108.75 509.4 109.1 503.39 109.45 508.19 109.8 503.59 110.15 509.06 110.5 503.08 110.85 506.54 111.2 503.87 111.55 510.12 111.9 503.28 112.25 505.09 112.6 510.07 112.95 504.62 113.3 511.17 113.65 503.61 114 504.42 114.35 511.82 114.7 504.91 115.05 511.64 115.4 512.52 115.75 505.06 116.1 511.09 116.45 506.63 116.8 512.33 117.15 505.73 117.5 511.53 117.85 511.48 118.2 504.82 118.55 512.48 118.9 512.83 119.25 504.78 119.6 511.51 119.95 506.85 120.3 512.24 120.65 513.21 121 512.22 121.35 506.02 121.7 512.07 122.05 505.79 122.4 512.25 122.75 509.92 123.1 513.83 123.45 507.6 123.8 514.49 124.15 507.15 124.5 513.18 124.85 514.97 125.2 508.02 125.55 515.08 125.9 507.75 126.25 513.64 126.6 508.73 126.95 515.33 127.3 507.27 127.65 514.34 128 507.24 128.35 511.65 128.7 513.44 129.05 514.45 129.4 508.82 129.75 514.71 130.1 507.96 130.45 514.24 130.8 512.66 131.15 514.63 131.5 509.09 131.85 516.55 132.2 507.38 132.55 515.69 132.9 508.88 133.25 515.01 133.6 516.02 133.95 508.45 134.3 509.51 134.65 516.53 135 508.15 135.35 516.03 135.7 517.58 136.05 510.19 136.4 516.25 136.75 509.72 137.1 515.37 137.45 509.59 137.8 517.52 138.15 517.52 138.5 509.88 138.85 517.26 139.2 511.24 139.55 510.83 139.9 517.36 140.25 509.59 140.6 521.46 140.95 505.31 141.3 516.4 141.65 514.44 142 519.07 142.35 511.8 142.7 511.41 143.05 518.27 143.4 510.91 143.75 518.75 144.1 519.43 144.45 510.11 144.8 518.14 145.15 509.8 145.5 518.35 145.85 511.54 146.2 519.6 146.55 511.26 146.9 520.08 147.25 506.83 147.6 509.95 147.95 518.52 148.3 510.88 148.65 519.88 149 517.2 149.35 518.63 149.7 511.5 150.05 519.53 150.4 511.7 150.75 519.26 151.1 510.89 151.45 519.57 151.8 510.44 152.15 520.33 152.5 519.19 152.85 511.24 153.2 519.53 153.55 513.91 153.9 522.05 154.25 522.86 154.6 513.01 154.95 521.74 155.3 521.92 155.65 521.52 156 512.87 156.35 521.84 156.7 514.42 157.05 523.51 157.4 512.31 157.75 524.66 158.1 524.32 158.45 513.76 158.8 522.4 159.15 514.06 159.5 523.51 159.85 516.5 160.2 524.22 160.55 515.85 160.9 524.02 161.25 516.85 161.6 525.36 161.95 519.15 162.3 526.23 162.65 511.85 163 527.41 163.35 515.09 163.7 527.8 164.05 517.06 164.4 527.65 164.75 518.2 165.1 527.72 165.45 525.23 165.8 518.75 166.15 526.68 166.5 517.82 166.85 529.31 167.2 519.01 167.55 527.14 167.9 517.27 168.25 529.4 168.6 519.74 168.95 526.68 169.3 519.74 169.65 527.47 170 519.73 170.35 527.93 170.7 520.75 171.05 521.19 171.4 529.96 171.75 520.42 172.1 528.37 172.45 521.39 172.8 530.58 173.15 522.29 173.5 522.57 173.85 531.75 174.2 522.15 174.55 526.97 174.9 520.51 175.25 530.93 175.6 522.66 175.95 532.89 176.3 534.02 176.65 520.96 177 534.43 177.35 522.56 177.7 531.53 178.05 533.42 178.4 525.1 178.75 522.47 179.1 532.32 179.45 525.86 179.8 533.5 180.15 524.98 180.5 535.38 180.85 526.14 181.2 537.3 181.55 527.24 181.9 537.77 182.25 525.84 182.6 536.02 182.95 526.93 183.3 539.96 183.65 528.46 184 537.83 184.35 528.96 184.7 528.69 185.05 536.46 185.4 529.27 185.75 538.37 186.1 526.56 186.45 539.89 186.8 537.97 187.15 527.45 187.5 539.47 187.85 530.17 188.2 541.61 188.55 528.57 188.9 535.21 189.25 531.69 189.6 540.79 189.95 528.3 190.3 541.69 190.65 541.67 191 532.29 191.35 541.21 191.7 531.07 192.05 531.23 192.4 542.81 192.75 531.67 193.1 546.02 193.45 532.88 193.8 546.26 194.15 532.22 194.5 544.87 194.85 536.57 195.2 546.76 195.55 535.59 195.9 546.52 196.25 547.62 196.6 534.01 196.95 548.22 197.3 531.81 197.65 547.22 198 537.62 198.35 547.94 198.7 536.58 199.05 551.3 199.4 539.91 199.75 550.84 200.1 533.93 200.45 551.44 200.8 538.17 201.15 552.95 201.5 542.04 201.85 553.17 202.2 538.92 202.55 554.36 202.9 543.4 203.25 553.12 203.6 554.08 203.95 544.29 204.3 555.99 204.65 552.59 205 553.1 205.35 543.52 205.7 553.39 206.05 556.79 206.4 542.15 206.75 556.53 207.1 544.85 207.45 556.88 207.8 544.06 208.15 555.94 208.5 558.91 208.85 545.26 209.2 561.31 209.55 559.11 209.9 548.5 210.25 562 210.6 549.24 210.95 560.61 211.3 547.27 211.65 561.08 212 551.28 212.35 561.59 212.7 551.26 213.05 561.45 213.4 552.31 213.75 564.43 214.1 566.34 214.45 558.88 214.8 564.43" fill="none" stroke="#000" stroke-width="1.6" stroke-linejoin="round"/>
<path d="M72 473.46 V473.46M72.6 474.35 V474.42M75 476.87 V476.67M75.6 477.47 V477.2M77.7 478.7 V478.35M78.9 479.94 V479.28M84.6 485.39 V483.81M86.7 488.98 V489.73M87 489.75 V491.22M88.5 489.14 V490.91M90.3 493.58 V492.63M90.9 494.5 V492.08M105 515.01 V517.84M107.4 518.17 V521.25M107.7 508.3 V510.43M108.3 511.69 V508.41M109.5 520.9 V524.14M110.1 520.87 V516.59M111.3 523.61 V528.98M114.6 514.04 V518.82M118.2 515.74 V512.28M120.3 516.37 V518.84M124.5 518.91 V515.37M124.8 530.43 V526.42M127.2 534.54 V539.97M129.9 533.64 V526.72M130.2 522.67 V528.64M131.7 536.05 V532.07M132 526.33 V530.42M133.2 525.91 V522.73M133.5 536.23 V539.97M134.1 535.67 V531.84M134.4 527.16 V533.51M135.3 540.57 V543.77M136.5 542.2 V548.86M137.1 541.37 V546.09M139.5 540.4 V536.23M143.1 528.89 V534.27M145.8 532.86 V524.73M146.7 532.9 V527.99M147 543.09 V535.73M149.4 549.68 V554.05M150 549.14 V556.63M150.3 534.21 V540.46M151.2 545.93 V539.13M152.7 531.18 V537.76M155.1 537.18 V545.26M159.9 555.28 V547.61M160.5 553.57 V561.9M161.1 558.51 V552.37M162 542.86 V547.74M162.9 560.52 V565.98M164.4 554.32 V562.43M164.7 538.15 V542.53M166.5 540.27 V534.98M167.4 555.52 V548.29M174 560.56 V568.19M175.2 568.31 V562.66M176.1 550.1 V542.09M177.9 546.73 V552.61M180.3 549.2 V557.22M181.5 546.43 V537.76M183.3 550.71 V540.14M184.8 574.36 V569.58M185.7 548.77 V553.7M188.4 559.69 V550.51M189.9 556.25 V563.05M190.2 581.18 V588.69M190.8 579.97 V588.3M194.1 565.94 V571.06M194.4 587.48 V595.32M198.6 561.56 V551.79M201 599.8 V607.45M204.3 568.38 V577.14M204.6 597.06 V601.77M206.1 594.15 V586.98M212.4 604.39 V595.73" stroke="#000" stroke-width="1" fill="none"/>
<path d="M72 473.46 72.3 473.74 72.6 474.35 72.9 474.15 73.2 474.99 73.5 474.82 73.8 475.12 74.1 475.53 74.4 476.11 74.7 476.56 75 476.87 75.3 476.61 75.6 477.47 75.9 477 76.2 477.33 76.5 477.75 76.8 478.14 77.1 479.03 77.4 478.61 77.7 478.7 78 479.89 78.3 479.58 78.6 480.5 78.9 479.94 79.2 481.01 79.5 480.68 79.8 481.81 80.1 482.17 80.4 481.43 80.7 482.51 81 482.19 81.3 483.01 81.6 482.41 81.9 483.69 82.2 483.04 82.5 484.49 82.8 483.92 83.1 485.09 83.4 484.51 83.7 484.56 84 486.18 84.3 485.42 84.6 485.39 84.9 486.89 85.2 486.12 85.5 487.54 85.8 486.62 86.1 488.16 86.4 487.53 86.7 488.98 87 489.75 87.3 488.24 87.6 490.43 87.9 489.26 88.2 490.7 88.5 489.14 88.8 492.2 89.1 490.35 89.4 492.2 89.7 492.84 90 491.17 90.3 493.58 90.6 491.93 90.9 494.5 91.2 492.57 91.5 495.66 91.8 492.95 92.1 496.68 92.4 493.07 92.7 493.72 93 493.83 93.3 498.19 93.6 494.39 93.9 495.6 94.2 499.26 94.5 495.5 94.8 499.34 95.1 495.97 95.4 501.21 95.7 501.18 96 497.06 96.3 500.83 96.6 497.89 96.9 502.8 97.2 497.66 97.5 503.56 97.8 503.36 98.1 503.56 98.4 499.44 98.7 504.65 99 499.55 99.3 505.93 99.6 507.33 99.9 499.88 100.2 507.55 100.5 502.38 100.8 506.97 101.1 503.29 101.4 508.16 101.7 501.86 102 509.69 102.3 503.64 102.6 510.83 102.9 505.58 103.2 509.87 103.5 504.88 103.8 511.26 104.1 507.28 104.4 512.43 104.7 506.87 105 515.01 105.3 513.97 105.6 515.02 105.9 515.98 106.2 508.32 106.5 516.54 106.8 509.63 107.1 510.23 107.4 518.17 107.7 508.3 108 518.05 108.3 511.69 108.6 512.25 108.9 518.73 109.2 509.78 109.5 520.9 109.8 510.66 110.1 520.87 110.4 512.19 110.7 512.46 111 510.46 111.3 523.61 111.6 511.56 111.9 513.06 112.2 524.05 112.5 511.83 112.8 524.62 113.1 514.61 113.4 524.21 113.7 513.66 114 526.48 114.3 523.06 114.6 514.04 114.9 523.99 115.2 515.96 115.5 527.59 115.8 516.38 116.1 527.9 116.4 518.88 116.7 526.74 117 528.05 117.3 528.28 117.6 517.82 117.9 527.73 118.2 515.74 118.5 529.46 118.8 519.25 119.1 519.98 119.4 530.26 119.7 519.84 120 529.62 120.3 516.37 120.6 531.15 120.9 519.59 121.2 531.81 121.5 520.78 121.8 532.14 122.1 522 122.4 522.14 122.7 530.16 123 520.05 123.3 531.94 123.6 529.6 123.9 521.72 124.2 533.95 124.5 518.91 124.8 530.43 125.1 520.68 125.4 521.79 125.7 534.84 126 532.51 126.3 522.9 126.6 530.4 126.9 519.54 127.2 534.54 127.5 519.9 127.8 519.87 128.1 534.43 128.4 524.3 128.7 536.41 129 521.49 129.3 532.66 129.6 522.4 129.9 533.64 130.2 522.67 130.5 534.07 130.8 523.21 131.1 533.18 131.4 524.22 131.7 536.05 132 526.33 132.3 523.09 132.6 535.29 132.9 524.92 133.2 525.91 133.5 536.23 133.8 524.13 134.1 535.67 134.4 527.16 134.7 538.98 135 522.98 135.3 540.57 135.6 523.36 135.9 541.5 136.2 524.83 136.5 542.2 136.8 526.84 137.1 541.37 137.4 538.58 137.7 525.39 138 524.44 138.3 538.59 138.6 526.13 138.9 538.38 139.2 527.73 139.5 540.4 139.8 539.11 140.1 538.98 140.4 526.46 140.7 539.25 141 530 141.3 542.46 141.6 540.2 141.9 526.6 142.2 543.67 142.5 530.81 142.8 543.02 143.1 528.89 143.4 527.28 143.7 545.27 144 544.83 144.3 542.89 144.6 529.75 144.9 547.5 145.2 527.57 145.5 544.55 145.8 532.86 146.1 545.13 146.4 532.38 146.7 532.9 147 543.09 147.3 529.45 147.6 548.65 147.9 531.48 148.2 547.11 148.5 534.52 148.8 546.13 149.1 532.42 149.4 549.68 149.7 534.27 150 549.14 150.3 534.21 150.6 546.89 150.9 531.44 151.2 545.93 151.5 531.25 151.8 547.78 152.1 531.06 152.4 546.99 152.7 531.18 153 550.09 153.3 534.21 153.6 549.17 153.9 535.46 154.2 554.58 154.5 538.32 154.8 553.52 155.1 537.18 155.4 551.49 155.7 550.41 156 536.31 156.3 555.43 156.6 536.22 156.9 555.15 157.2 551.75 157.5 537.96 157.8 553.38 158.1 535.49 158.4 552.06 158.7 540.81 159 539.06 159.3 555.42 159.6 537.53 159.9 555.28 160.2 542.58 160.5 553.57 160.8 540.13 161.1 558.51 161.4 535.71 161.7 552.37 162 542.86 162.3 554.45 162.6 537.46 162.9 560.52 163.2 544.04 163.5 558.89 163.8 536.72 164.1 557.72 164.4 554.32 164.7 538.15 165 558.38 165.3 545.15 165.6 561.51 165.9 542.82 166.2 559.82 166.5 540.27 166.8 562.31 167.1 538.19 167.4 555.52 167.7 540.44 168 560.94 168.3 562.42 168.6 540.18 168.9 562.21 169.2 540.69 169.5 563.36 169.8 542.18 170.1 565.34 170.4 542.36 170.7 562.09 171 542.12 171.3 565.16 171.6 539.59 171.9 565.5 172.2 567.28 172.5 546.84 172.8 562.43 173.1 541.62 173.4 560.21 173.7 544.88 174 560.56 174.3 541.63 174.6 569.3 174.9 549.12 175.2 568.31 175.5 546.08 175.8 562.77 176.1 550.1 176.4 568.99 176.7 545.42 177 562.67 177.3 547.8 177.6 562.58 177.9 546.73 178.2 572.44 178.5 545.84 178.8 570.63 179.1 549.91 179.4 572.54 179.7 544.32 180 574.16 180.3 549.2 180.6 549.41 180.9 551.8 181.2 568.1 181.5 546.43 181.8 567.56 182.1 546.89 182.4 576.83 182.7 551.68 183 577 183.3 550.71 183.6 572.85 183.9 557.25 184.2 575.82 184.5 548.95 184.8 574.36 185.1 554.77 185.4 577.21 185.7 548.77 186 572.18 186.3 554.08 186.6 549.37 186.9 578.08 187.2 550.81 187.5 577.1 187.8 559.22 188.1 576.16 188.4 559.69 188.7 556.77 189 581.51 189.3 561.31 189.6 583.52 189.9 556.25 190.2 581.18 190.5 552.79 190.8 579.97 191.1 585.28 191.4 557.92 191.7 589.49 192 555.56 192.3 583.17 192.6 556 192.9 590.15 193.2 554.6 193.5 587.88 193.8 562.32 194.1 565.94 194.4 587.48 194.7 556.55 195 563.42 195.3 583.67 195.6 565.17 195.9 583.28 196.2 562.68 196.5 593.96 196.8 588.97 197.1 563.56 197.4 592.91 197.7 565.73 198 586.21 198.3 593.89 198.6 561.56 198.9 587.72 199.2 562.6 199.5 593.32 199.8 567.06 200.1 588.66 200.4 569.41 200.7 561.48 201 599.8 201.3 572.58 201.6 596.96 201.9 565.61 202.2 603.06 202.5 595.98 202.8 566.36 203.1 571.99 203.4 603.84 203.7 564.49 204 592.72 204.3 568.38 204.6 597.06 204.9 571.9 205.2 596.01 205.5 568.62 205.8 601.23 206.1 594.15 206.4 578.61 206.7 601.05 207 568.92 207.3 568.54 207.6 607.53 207.9 579.2 208.2 570.24 208.5 597.85 208.8 602.7 209.1 574.08 209.4 598.13 209.7 579.75 210 573.41 210.3 607.5 210.6 574.42 210.9 601 211.2 572.11 211.5 600.99 211.8 582.57 212.1 608.92 212.4 604.39 212.7 600.5 213 608.62 213.3 607.08 213.6 583.9 213.9 605.58 214.2 576.31 214.5 608.2 214.8 579.07" fill="none" stroke="#000" stroke-width="1.6" stroke-linejoin="round"/>
<path d="M100.5 501.54 V500M101.5 503.18 V501.59M102 502.89 V501.33M104.5 506.38 V503.54M105.5 506.65 V503.7M111.5 511.98 V509.92M115 514.77 V511.71M117 515.42 V511.41M126.5 520.14 V517.55M127 521.01 V517.89M130.5 522.58 V518.91M133 523.1 V518.28M134 523.64 V520.71M137 525.47 V522.28M138.5 525.78 V522.24M139 525.87 V520.12M141.5 527.2 V521.79M143.5 527.64 V520.42M145 528.02 V523.97M146 528.42 V523.04M149.5 530.24 V524.23M150.5 530.46 V526.04M152.5 531.95 V524.09M156 533.86 V530.6M157 534.99 V527.89M158.5 536.58 V531.58M159.5 536.5 V529.31M160 536.72 V528.72M160.5 537.43 V533.48M162.5 537.77 V529.32M164 538.67 V534.54M166 538.79 V534.59M166.5 539.2 V535.92M167 538.96 V530.43M169.5 539.61 V535.76M171.5 541.08 V534.58M173.5 541.37 V532.55M174.5 541.94 V533.33M175 541.79 V532.41M176 542.06 V533.27M177 543.43 V534.94M178 544.27 V540.55M179 544.25 V538.11M185.5 550.59 V541.74M191 555.33 V549.48M197 560.25 V556.04M200.5 562.53 V551.45M202.5 564.29 V558.21M203 564.06 V556.65M204 564.74 V560.32M206 566.79 V557.9M207 568 V562.71M208.5 569.49 V559.66M210 571.76 V560.73M210.5 572.65 V565.86M214 576.63 V566.3" stroke="#000" stroke-width="1" fill="none"/>
<path d="M100 500.84 100.5 501.54 101 502.6 101.5 503.18 102 502.89 102.5 503.35 103 504.34 103.5 505.34 104 505.77 104.5 506.38 105 506.8 105.5 506.65 106 507.95 106.5 507.81 107 507.92 107.5 508.42 108 508.86 108.5 509.84 109 510.26 109.5 510.2 110 511.18 110.5 511.05 111 511.68 111.5 511.98 112 512.87 112.5 512.63 113 513.69 113.5 514.03 114 513.63 114.5 513.82 115 514.77 115.5 514.53 116 515.46 116.5 515.36 117 515.42 117.5 516.28 118 516.73 118.5 516.65 119 516.57 119.5 516.8 120 517.28 120.5 518.11 121 517.72 121.5 518.37 122 518.57 122.5 518.36 123 519.1 123.5 519.23 124 519.77 124.5 519.33 125 519.7 125.5 519.72 126 520.31 126.5 520.14 127 521.01 127.5 520.8 128 520.79 128.5 521.8 129 521.11 129.5 522.1 130 521.99 130.5 522.58 131 522.29 131.5 523.12 132 522.96 132.5 523.45 133 523.1 133.5 523.24 134 523.64 134.5 524.07 135 524.11 135.5 524.34 136 525.11 136.5 524.66 137 525.47 137.5 524.99 138 525.46 138.5 525.78 139 525.87 139.5 526.02 140 526.69 140.5 526.69 141 527.07 141.5 527.2 142 527.64 142.5 527.31 143 527.36 143.5 527.64 144 527.91 144.5 527.82 145 528.02 145.5 528.05 146 528.42 146.5 529.13 147 528.63 147.5 529.41 148 528.92 148.5 529.56 149 529.75 149.5 530.24 150 530.18 150.5 530.46 151 530.89 151.5 531.19 152 531.17 152.5 531.95 153 531.74 153.5 532.6 154 532.28 154.5 532.89 155 533.11 155.5 533.56 156 533.86 156.5 534.69 157 534.99 157.5 535.6 158 535.47 158.5 536.58 159 536.41 159.5 536.5 160 536.72 160.5 537.43 161 537.39 161.5 537.37 162 538.02 162.5 537.77 163 538 163.5 538.58 164 538.67 164.5 538.98 165 538.43 165.5 539.31 166 538.79 166.5 539.2 167 538.96 167.5 539.85 168 539.96 168.5 539.8 169 539.56 169.5 539.61 170 540.02 170.5 539.84 171 540.37 171.5 541.08 172 541.24 172.5 541.04 173 540.96 173.5 541.37 174 541.38 174.5 541.94 175 541.79 175.5 542.07 176 542.06 176.5 542.65 177 543.43 177.5 543.47 178 544.27 178.5 544.21 179 544.25 179.5 545.04 180 545.63 180.5 546.32 181 546.82 181.5 546.79 182 547.08 182.5 547.83 183 547.99 183.5 548.58 184 549.64 184.5 549.75 185 550.5 185.5 550.59 186 551.57 186.5 551.65 187 552.36 187.5 553.21 188 553.68 188.5 554.03 189 554 189.5 554.52 190 554.51 190.5 555.22 191 555.33 191.5 556.26 192 556.57 192.5 557.04 193 557.61 193.5 557.33 194 558.03 194.5 558.62 195 559.01 195.5 558.71 196 559.35 196.5 559.67 197 560.25 197.5 559.73 198 560.88 198.5 560.77 199 561.44 199.5 561.95 200 562.28 200.5 562.53 201 562.19 201.5 563.45 202 563.06 202.5 564.29 203 564.06 203.5 565.12 204 564.74 204.5 565.14 205 566.42 205.5 566.7 206 566.79 206.5 567.21 207 568 207.5 568.65 208 569.65 208.5 569.49 209 569.87 209.5 571.06 210 571.76 210.5 572.65 211 572.47 211.5 573.24 212 574.58 212.5 574.6 213 575.99 213.5 575.99 214 576.63 214.5 577.77 215 578.86" fill="none" stroke="#000" stroke-width="0" stroke-linejoin="round"/>
<path d="M57.3 697.76 V694.15M83.7 697.29 V693.39M87.9 693.9 V692.05M122.7 693.92 V692.01M123.3 695.51 V693.75M135.9 693.82 V690.52M143.7 694.53 V692.41M144.9 697.08 V695.03M181.5 694.29 V691.61M186.3 696.39 V692.79M202.5 694.87 V692.67M209.7 693.67 V691.94M216.3 697.87 V696.31" stroke="#333" stroke-width="0.8" fill="none"/>
<path d="M47.7 697.89 48.3 697.03 48.9 694.08 49.5 697.3 50.1 697.4 50.7 695.11 51.3 695.85 51.9 696.27 52.5 695.05 53.1 696.35 53.7 696.86 54.3 697.45 54.9 695.05 55.5 695.47 56.1 696.22 56.7 696.01 57.3 697.76 57.9 693.76 58.5 697.01 59.1 694.21 59.7 694.76 60.3 696.17 60.9 697.07 61.5 694.28 62.1 697.75 62.7 695.09 63.3 697.33 63.9 697.61 64.5 694.53 65.1 694.23 65.7 697.52 66.3 694.15 66.9 697.11 67.5 698.05 68.1 693.85 68.7 693.13 69.3 695.09 69.9 696.74 70.5 697.52 71.1 694.95 71.7 694.98 72.3 694.62 72.9 697.39 73.5 696.99 74.1 693.5 74.7 696.03 75.3 697.55 75.9 694.06 76.5 697.52 77.1 695.17 77.7 695.37 78.3 697.29 78.9 696.81 79.5 693.7 80.1 694.62 80.7 697.7 81.3 693.94 81.9 696.78 82.5 694.79 83.1 695.27 83.7 697.29 84.3 697.18 84.9 693.67 85.5 697.55 86.1 693.61 86.7 696.32 87.3 695.99 87.9 693.9 88.5 697.94 89.1 694.02 89.7 697.83 90.3 696.65 90.9 696.48 91.5 694.07 92.1 695.31 92.7 696.12 93.3 693.77 93.9 694.03 94.5 694.25 95.1 696.16 95.7 695.6 96.3 697.43 96.9 695.81 97.5 696.72 98.1 694.22 98.7 696.91 99.3 697.88 99.9 696.39 100.5 695.52 101.1 696.72 101.7 693.75 102.3 697.24 102.9 695.72 103.5 695.1 104.1 695.81 104.7 694.44 105.3 694.49 105.9 697.05 106.5 695.37 107.1 697.22 107.7 697.94 108.3 696.86 108.9 694.29 109.5 697.34 110.1 695.53 110.7 696.9 111.3 694.06 111.9 694.61 112.5 696.41 113.1 696.38 113.7 693.84 114.3 697.05 114.9 697.82 115.5 695.42 116.1 695.52 116.7 696.1 117.3 694.72 117.9 695.32 118.5 696.83 119.1 694.3 119.7 695.04 120.3 697.81 120.9 697.94 121.5 694.14 122.1 697.75 122.7 693.92 123.3 695.51 123.9 694.42 124.5 694.2 125.1 696 125.7 694.76 126.3 696.56 126.9 694.31 127.5 696.75 128.1 697.37 128.7 695.8 129.3 696.3 129.9 697 130.5 697.18 131.1 692.4 131.7 696.99 132.3 695.3 132.9 696.11 133.5 697.31 134.1 696.94 134.7 694.57 135.3 694.92 135.9 693.82 136.5 694.63 137.1 697.42 137.7 697.05 138.3 696.43 138.9 697.43 139.5 697.17 140.1 694.75 140.7 694.05 141.3 697.18 141.9 693.56 142.5 694.82 143.1 694.84 143.7 694.53 144.3 694.26 144.9 697.08 145.5 696.03 146.1 697.29 146.7 695.18 147.3 696.14 147.9 695.12 148.5 691.85 149.1 696.9 149.7 696.23 150.3 694.37 150.9 696.45 151.5 693.53 152.1 695.62 152.7 697.83 153.3 697.26 153.9 694.43 154.5 696.84 155.1 696.39 155.7 696.44 156.3 694.46 156.9 693.77 157.5 694.21 158.1 697.58 158.7 695.9 159.3 695.94 159.9 697.87 160.5 695.69 161.1 696.23 161.7 694.43 162.3 693.44 162.9 695.87 163.5 691.67 164.1 694.63 164.7 693.64 165.3 694.33 165.9 694.5 166.5 695.37 167.1 694.28 167.7 693.55 168.3 696.31 168.9 694.54 169.5 696.4 170.1 695.31 170.7 693.37 171.3 694.45 171.9 695.72 172.5 694.88 173.1 695.12 173.7 695.89 174.3 695.31 174.9 695.33 175.5 694.93 176.1 693.99 176.7 696.74 177.3 694.63 177.9 693.55 178.5 693.15 179.1 696.78 179.7 696.57 180.3 694.5 180.9 695.74 181.5 694.29 182.1 693.72 182.7 696.7 183.3 697.33 183.9 696.5 184.5 696.07 185.1 696.82 185.7 695.57 186.3 696.39 186.9 696.54 187.5 694.53 188.1 695.36 188.7 693.78 189.3 697.46 189.9 695.06 190.5 694.11 191.1 693.9 191.7 693.55 192.3 695.34 192.9 696.51 193.5 693.29 194.1 694.13 194.7 694.12 195.3 695.59 195.9 697.52 196.5 694.34 197.1 697.27 197.7 695.28 198.3 694.83 198.9 695.27 199.5 694.95 200.1 694.29 200.7 695.88 201.3 695.38 201.9 695.57 202.5 694.87 203.1 696.29 203.7 693.57 204.3 697.71 204.9 694.32 205.5 695.38 206.1 695.85 206.7 696.36 207.3 695.53 207.9 696.42 208.5 694.22 209.1 694.65 209.7 693.67 210.3 697.14 210.9 696.09 211.5 696.16 212.1 694.27 212.7 696.9 213.3 693.87 213.9 696.61 214.5 691.21 215.1 697.54 215.7 697.29 216.3 697.87 216.9 695.47 217.5 696.05" fill="none" stroke="#111" stroke-width="0.9" stroke-linejoin="round"/>
<path d="M47.7 699.56 48.3 698.02 48.9 699.95 49.5 699.21 50.1 696.43 50.7 700.49 51.3 699.5 51.9 699.62 52.5 696.59 53.1 698.07 53.7 697.71 54.3 700.26 54.9 698.96 55.5 699.78 56.1 698.04 56.7 697.05 57.3 698.55 57.9 696.29 58.5 699.81 59.1 698.91 59.7 699.49 60.3 697.63 60.9 700.47 61.5 700.11 62.1 699.58 62.7 696.9 63.3 698.15 63.9 696.2 64.5 696.71 65.1 699.14 65.7 699.43 66.3 700.45 66.9 697.5 67.5 697.7 68.1 698.16 68.7 696.87 69.3 696.6 69.9 698.19 70.5 697.04 71.1 699.08 71.7 698.01 72.3 699.83 72.9 699.22 73.5 697.44 74.1 699.83 74.7 699.7 75.3 697.78 75.9 697.33 76.5 699.14 77.1 696.64 77.7 696.92 78.3 696.03 78.9 699.62 79.5 699.06 80.1 699.24 80.7 699.59 81.3 698.11 81.9 698.62 82.5 696.64 83.1 696.53 83.7 699.07 84.3 698.17 84.9 698.6 85.5 699.52 86.1 698.92 86.7 698.55 87.3 698.57 87.9 697.4 88.5 696.14 89.1 698.01 89.7 696.99 90.3 697.88 90.9 699.93 91.5 697.08 92.1 696.27 92.7 697.29 93.3 697.35 93.9 699.04 94.5 698.56 95.1 699.61 95.7 699.06 96.3 697.87 96.9 699.74 97.5 696.77 98.1 696.1 98.7 696.41 99.3 699.32 99.9 698.12 100.5 696.74 101.1 698.3 101.7 696.7 102.3 699.2 102.9 698.05 103.5 697.75 104.1 697.39 104.7 698.9 105.3 697.66 105.9 696.4 106.5 696.54 107.1 700.42 107.7 700.18 108.3 699.22 108.9 697.22 109.5 700.46 110.1 699.58 110.7 699.3 111.3 698.07 111.9 697.25 112.5 696.44 113.1 700.15 113.7 698.1 114.3 696.93 114.9 697.41 115.5 698.66 116.1 696.81 116.7 699.94 117.3 699.49 117.9 699.31 118.5 697.99 119.1 698.89 119.7 698.69 120.3 698.99 120.9 696.39 121.5 697.91 122.1 696.19 122.7 698.27 123.3 697.52 123.9 696.66 124.5 696.48 125.1 698.7 125.7 696.78 126.3 700.26 126.9 698.67 127.5 697.6 128.1 698.72 128.7 696.1 129.3 700.41 129.9 698.22 130.5 699.6 131.1 696.38 131.7 698.24 132.3 698.26 132.9 700.31 133.5 698.63 134.1 698.18 134.7 697.23 135.3 697.53 135.9 698.4 136.5 698.02 137.1 696.1 137.7 699.8 138.3 700.12 138.9 696.65 139.5 698.55 140.1 696.5 140.7 699.09 141.3 697.29 141.9 699.03 142.5 699.34 143.1 699.54 143.7 696.5 144.3 700.21 144.9 697.06 145.5 696.17 146.1 698.55 146.7 697.71 147.3 699.82 147.9 699.72 148.5 697.46 149.1 700.38 149.7 697.34 150.3 698.37 150.9 697.18 151.5 700.31 152.1 696.76 152.7 696.21 153.3 698 153.9 700.56 154.5 700.1 155.1 699.44 155.7 700.1 156.3 700.11 156.9 698.39 157.5 697.45 158.1 699.55 158.7 699.04 159.3 697.72 159.9 696.43 160.5 699.44 161.1 697.21 161.7 700.31 162.3 697.11 162.9 696.56 163.5 699.82 164.1 696.71 164.7 696.82 165.3 698.76 165.9 700.02 166.5 696.9 167.1 697.43 167.7 699.58 168.3 700.47 168.9 698.3 169.5 696.66 170.1 696.06 170.7 697.06 171.3 696.61 171.9 699.12 172.5 696.56 173.1 698.33 173.7 699.19 174.3 698.67 174.9 696.92 175.5 699.7 176.1 699.29 176.7 699.4 177.3 696.6 177.9 696.57 178.5 700.27 179.1 697.83 179.7 697.38 180.3 698.25 180.9 699.05 181.5 700.4 182.1 697.32 182.7 700.25 183.3 696.11 183.9 698.55 184.5 698.92 185.1 696.49 185.7 696.65 186.3 697.93 186.9 700.44 187.5 698.74 188.1 700.29 188.7 699.7 189.3 698.15 189.9 699.61 190.5 696.08 191.1 696.5 191.7 699.82 192.3 699.67 192.9 697.07 193.5 698.44 194.1 698.79 194.7 699.99 195.3 698.77 195.9 697.9 196.5 697.72 197.1 697.96 197.7 699 198.3 699.99 198.9 698.09 199.5 697.14 200.1 697.09 200.7 699.43 201.3 699.76 201.9 696.48 202.5 696.31 203.1 698.73 203.7 696.67 204.3 699.79 204.9 697.43 205.5 696.66 206.1 700.24 206.7 696.76 207.3 697.31 207.9 696.71 208.5 696.53 209.1 696.1 209.7 696.25 210.3 696.8 210.9 696.25 211.5 698.72 212.1 699.13 212.7 697.81 213.3 697.46 213.9 698.32 214.5 700.03 215.1 699.92 215.7 696.2 216.3 696.83 216.9 697.09 217.5 697.15" fill="none" stroke="#111" stroke-width="0.9" stroke-linejoin="round"/>
<path d="M47.7 700.94 48.3 698.38 48.9 698.28 49.5 701.72 50.1 700.67 50.7 699.14 51.3 701.36 51.9 701.94 52.5 699.96 53.1 700.09 53.7 702.21 54.3 701.95 54.9 699.37 55.5 699.37 56.1 699.97 56.7 698.22 57.3 699.5 57.9 702.2 58.5 701.72 59.1 700.45 59.7 700.24 60.3 702.17 60.9 700.69 61.5 702.16 62.1 702.39 62.7 698.34 63.3 698.7 63.9 702.78 64.5 698.73 65.1 699.64 65.7 699.46 66.3 700.51 66.9 698.41 67.5 700.09 68.1 700.53 68.7 698.7 69.3 699.63 69.9 700.32 70.5 699.48 71.1 699.95 71.7 699.94 72.3 698.59 72.9 700.67 73.5 698.51 74.1 700.64 74.7 698.55 75.3 700.46 75.9 701.77 76.5 699.41 77.1 698.55 77.7 699.55 78.3 699.98 78.9 700.77 79.5 701.44 80.1 698.22 80.7 701.74 81.3 700.11 81.9 700.61 82.5 701.57 83.1 704.2 83.7 701.82 84.3 699.55 84.9 699.01 85.5 698.25 86.1 699.86 86.7 702.96 87.3 700.58 87.9 701.89 88.5 701.68 89.1 700.29 89.7 698.72 90.3 700.3 90.9 702.06 91.5 701.9 92.1 701.03 92.7 700.97 93.3 701.68 93.9 701.09 94.5 700.82 95.1 699.89 95.7 699.88 96.3 700.24 96.9 701.9 97.5 700.89 98.1 701.67 98.7 700.31 99.3 700.45 99.9 701.13 100.5 701.12 101.1 699.12 101.7 702.09 102.3 701.05 102.9 700.96 103.5 699.72 104.1 699.38 104.7 702.37 105.3 701.05 105.9 701.95 106.5 701.25 107.1 701.36 107.7 699.72 108.3 702.12 108.9 702.27 109.5 699.31 110.1 701.27 110.7 699.05 111.3 699.12 111.9 701.45 112.5 702.17 113.1 700.28 113.7 699.52 114.3 699.39 114.9 700.11 115.5 700.89 116.1 705.02 116.7 701.34 117.3 701.89 117.9 701.39 118.5 700.01 119.1 702.2 119.7 700.75 120.3 700.1 120.9 702.91 121.5 701.36 122.1 700.6 122.7 700.23 123.3 702.04 123.9 700.33 124.5 700.46 125.1 702.13 125.7 702.24 126.3 702.43 126.9 700 127.5 698.81 128.1 698.62 128.7 699.48 129.3 698.24 129.9 701.76 130.5 699.14 131.1 698.87 131.7 700.27 132.3 700.88 132.9 698.37 133.5 698.74 134.1 702.23 134.7 700.76 135.3 702.12 135.9 699.09 136.5 701.56 137.1 698.81 137.7 700.81 138.3 701.58 138.9 700.23 139.5 698.58 140.1 700.92 140.7 700.21 141.3 700.46 141.9 701.11 142.5 701.76 143.1 700.88 143.7 701.69 144.3 702.29 144.9 702.35 145.5 699.85 146.1 699.22 146.7 701.82 147.3 699.59 147.9 701.59 148.5 699.05 149.1 698.93 149.7 700.02 150.3 699.85 150.9 698.54 151.5 704.33 152.1 699.56 152.7 698.69 153.3 699.24 153.9 698.51 154.5 700.56 155.1 701.53 155.7 701.01 156.3 699.88 156.9 701.5 157.5 699.96 158.1 698.23 158.7 699.91 159.3 698.69 159.9 698.82 160.5 698.8 161.1 699.46 161.7 699.59 162.3 700.64 162.9 702.12 163.5 700.67 164.1 701.74 164.7 702.31 165.3 700.41 165.9 698.63 166.5 698.41 167.1 701.74 167.7 700.86 168.3 700.27 168.9 701.27 169.5 698.21 170.1 701.79 170.7 701.23 171.3 702.71 171.9 701.06 172.5 703.25 173.1 700.07 173.7 700.29 174.3 698.23 174.9 700.95 175.5 702.33 176.1 700.03 176.7 698.73 177.3 700.88 177.9 700.06 178.5 698.89 179.1 700.17 179.7 698.81 180.3 701.64 180.9 700.23 181.5 701.36 182.1 698.7 182.7 698.55 183.3 701.77 183.9 700.03 184.5 701.46 185.1 698.62 185.7 699.19 186.3 702.02 186.9 698.69 187.5 700.46 188.1 699.37 188.7 699.46 189.3 701.26 189.9 701.06 190.5 698.4 191.1 699.61 191.7 700.45 192.3 702.28 192.9 701.78 193.5 700.24 194.1 701.62 194.7 699.66 195.3 698.34 195.9 699.07 196.5 698.44 197.1 699.55 197.7 700.44 198.3 699.65 198.9 700.41 199.5 700.33 200.1 699.3 200.7 701.78 201.3 699.92 201.9 699.06 202.5 700.54 203.1 700.67 203.7 700.72 204.3 701.23 204.9 699.96 205.5 698.95 206.1 702.12 206.7 700.92 207.3 698.75 207.9 699.06 208.5 699.91 209.1 700.74 209.7 702.35 210.3 699.21 210.9 701.18 211.5 704.2 212.1 699.82 212.7 701.17 213.3 698.87 213.9 699.96 214.5 699.44 215.1 699.78 215.7 699.4 216.3 701.48 216.9 700.57 217.5 701.55" fill="none" stroke="#111" stroke-width="0.9" stroke-linejoin="round"/>
<path d="M324.5 693.72 325.1 692.87 325.7 693.57 326.3 692.88 326.9 692.52 327.5 693.75 328.1 693.87 328.7 693.54 329.3 692.58 329.9 693.75 330.5 693.75 331.1 693.5 331.7 692.43 332.3 692.56 332.9 693.77 333.5 693.9 334.1 692.34 334.7 693.83 335.3 693.72 335.9 692.32 336.5 692.47 337.1 692.26 337.7 693.82 338.3 692.39 338.9 693.33 339.5 692.2 340.1 693.54 340.7 692.57 341.3 693.43 341.9 692.48 342.5 693.3 343.1 692.08 343.7 693.27 344.3 693.18 344.9 692.94 345.5 690.97 346.1 689.9 346.7 690.02 347.3 688.2 347.9 689.2 348.5 690.77 349.1 693.69 349.7 694.78 350.3 696.28 350.9 696.52 351.5 695.61 352.1 695.77 352.7 697.16 353.3 695.64 353.9 696.69 354.5 695.61 355.1 697.19 355.7 695.91 356.3 695.91 356.9 697.27 357.5 695.96 358.1 696.21 358.7 696.99 359.3 695.88 359.9 695.66 360.5 695.94 361.1 696.8 361.7 695.61 362.3 697.13 362.9 697.35 363.5 696.16 364.1 697.27 364.7 695.92 365.3 695.95 365.9 695.64 366.5 695.9 367.1 696.72 367.7 697.25 368.3 696.98 368.9 697.15 369.5 695.94 370.1 697.27 370.7 695.62 371.3 697.02 371.9 695.84 372.5 697.14 373.1 696.83 373.7 695.92 374.3 696.63 374.9 695.77 375.5 695.82 376.1 696.59 376.7 695.61 377.3 695.52 377.9 696.56 378.5 695.45 379.1 696.49 379.7 695.41 380.3 696.92 380.9 695.3 381.5 695.24 382.1 696.73 382.7 696.83 383.3 696.87 383.9 695.28 384.5 695.58 385.1 696.7 385.7 696.62 386.3 695.04 386.9 696.23 387.5 695.23 388.1 696.6 388.7 695.32 389.3 696.53 389.9 695.48 390.5 696.09 391.1 695.08 391.7 695.02 392.3 696.48 392.9 695.34 393.5 696.01 394.1 696.08 394.7 694.84 395.3 695.27 395.9 694.8 396.5 696.43 397.1 694.68 397.7 696.21 398.3 694.68 398.9 696.06 399.5 694.84 400.1 696.21 400.7 696.07 401.3 696.32 401.9 696.11 402.5 696.24 403.1 695.08 403.7 695.94 404.3 694.6 404.9 696.28 405.5 694.88 406.1 695.77 406.7 694.85 407.3 696.13 407.9 694.92 408.5 694.75 409.1 695.74 409.7 695.14 410.3 694.56 410.9 694.66 411.5 695.77 412.1 695.03 412.7 694.88 413.3 694.69 413.9 695.75 414.5 695.1 415.1 696.23 415.7 696.24 416.3 695.86 416.9 695.9 417.5 694.76 418.1 696.26 418.7 694.51 419.3 695.96 419.9 694.85 420.5 695.7 421.1 694.95 421.7 695.76 422.3 694.6 422.9 694.58 423.5 694.48 424.1 694.71 424.7 696.22 425.3 696 425.9 695.05 426.5 696 427.1 694.93 427.7 696.12 428.3 694.87 428.9 694.48 429.5 694.56 430.1 696 430.7 695.7 431.3 694.77 431.9 696.2 432.5 694.54 433.1 695.95 433.7 694.97 434.3 696.19 434.9 695.92 435.5 694.64 436.1 694.91 436.7 695.6 437.3 694.8 437.9 696.12 438.5 695.61 439.1 694.98 439.7 696.05 440.3 695.89 440.9 694.52 441.5 695.94 442.1 695.81 442.7 694.56 443.3 694.82 443.9 694.71 444.5 695.99 445.1 696.2 445.7 696 446.3 694.5 446.9 695.96 447.5 694.85 448.1 695.76 448.7 694.61 449.3 695.96 449.9 694.89 450.5 694.49 451.1 695.01 451.7 695.71 452.3 694.83 452.9 694.44 453.5 695.79 454.1 694.47 454.7 694.45 455.3 696.14 455.9 694.86 456.5 694.78 457.1 694.94 457.7 694.86 458.3 695.83 458.9 694.74 459.5 695.69 460.1 694.54 460.7 695.74 461.3 695.91 461.9 694.71 462.5 696.22 463.1 694.89 463.7 694.54 464.3 695.92 464.9 694.63 465.5 696.18 466.1 694.63 466.7 696.05 467.3 695.73 467.9 694.66 468.5 696.29 469.1 695.09 469.7 696.29 470.3 696 470.9 696.15 471.5 694.82 472.1 696.29 472.7 694.71" fill="none" stroke="#000" stroke-width="1.4" stroke-linejoin="round"/>
<path d="M324.5 696.85 325.1 695.96 325.7 696.94 326.3 695.37 326.9 697.06 327.5 697.04 328.1 695.55 328.7 696.87 329.3 695.29 329.9 695.39 330.5 695.74 331.1 696.44 331.7 695.63 332.3 696.68 332.9 696.74 333.5 695.46 334.1 696.75 334.7 695.15 335.3 695.36 335.9 696.78 336.5 695.47 337.1 695.16 337.7 696.65 338.3 696.43 338.9 695.15 339.5 696.61 340.1 696.38 340.7 695.44 341.3 695.77 341.9 696.99 342.5 696.83 343.1 695.48 343.7 696.92 344.3 695.3 344.9 696.98 345.5 697.05 346.1 695.56 346.7 696.72 347.3 695.55 347.9 696.67 348.5 695.45 349.1 695.93 349.7 696.89 350.3 695.87 350.9 695.92 351.5 697.36 352.1 697.05 352.7 697.23 353.3 696.1 353.9 697.55 354.5 695.9 355.1 697.21 355.7 695.96 356.3 697.32 356.9 697.54 357.5 696.16 358.1 697.67 358.7 697.83 359.3 697.25 359.9 696.71 360.5 697.69 361.1 696.16 361.7 696.43 362.3 696.5 362.9 697.72 363.5 697.48 364.1 696.37 364.7 697.8 365.3 696.62 365.9 697.78 366.5 696.73 367.1 696.94 367.7 697.73 368.3 696.8 368.9 696.97 369.5 697.05 370.1 697.89 370.7 696.73 371.3 696.93 371.9 698.13 372.5 698.13 373.1 696.74 373.7 696.99 374.3 697.85 374.9 696.85 375.5 697.15 376.1 698.06 376.7 697.26 377.3 696.9 377.9 698.09 378.5 698.57 379.1 697.51 379.7 698.31 380.3 697.04 380.9 697.04 381.5 698.67 382.1 697.39 382.7 698.61 383.3 697.63 383.9 698.72 384.5 697.78 385.1 698.73 385.7 697.94 386.3 698.7 386.9 699.12 387.5 697.64 388.1 698.95 388.7 699.35 389.3 698.86 389.9 699.37 390.5 698.17 391.1 699.28 391.7 699.32 392.3 699.04 392.9 697.96 393.5 699.11 394.1 698.17 394.7 699.55 395.3 699.6 395.9 698.24 396.5 698 397.1 699.61 397.7 699.36 398.3 699.72 398.9 698.24 399.5 698.29 400.1 699.44 400.7 699.48 401.3 698.36 401.9 698.26 402.5 698.31 403.1 698.53 403.7 699.89 404.3 698.43 404.9 699.44 405.5 699.8 406.1 698.59 406.7 700.01 407.3 698.59 407.9 699.62 408.5 699.83 409.1 699.62 409.7 698.69 410.3 699.54 410.9 698.65 411.5 698.77 412.1 699.97 412.7 699.7 413.3 698.66 413.9 698.85 414.5 698.57 415.1 698.92 415.7 699.95 416.3 700.03 416.9 700.15 417.5 700.22 418.1 698.61 418.7 698.53 419.3 699.87 419.9 699.96 420.5 699.88 421.1 698.5 421.7 698.53 422.3 700.02 422.9 698.96 423.5 700 424.1 698.64 424.7 699.74 425.3 698.64 425.9 700.19 426.5 698.63 427.1 700.25 427.7 698.81 428.3 699.89 428.9 698.59 429.5 700.1 430.1 700.01 430.7 700.35 431.3 699.13 431.9 699.93 432.5 698.7 433.1 699.79 433.7 699.08 434.3 700.29 434.9 698.8 435.5 699.8 436.1 698.66 436.7 698.84 437.3 700.27 437.9 699.18 438.5 700.11 439.1 700.05 439.7 698.86 440.3 700.33 440.9 700.3 441.5 698.92 442.1 698.93 442.7 700.28 443.3 700.1 443.9 699.16 444.5 699.92 445.1 699.95 445.7 698.8 446.3 699.97 446.9 700.23 447.5 699.05 448.1 699.82 448.7 698.58 449.3 700.15 449.9 700.15 450.5 698.82 451.1 699.92 451.7 698.98 452.3 699.67 452.9 698.98 453.5 700.02 454.1 698.57 454.7 699.99 455.3 699.03 455.9 698.46 456.5 698.86 457.1 700.17 457.7 699.92 458.3 700.13 458.9 699.71 459.5 699.99 460.1 698.7 460.7 698.81 461.3 699.63 461.9 698.29 462.5 698.51 463.1 699.43 463.7 698.59 464.3 699.8 464.9 699.79 465.5 698.36 466.1 698.43 466.7 699.66 467.3 698.59 467.9 698.2 468.5 699.32 469.1 698.41 469.7 699.56 470.3 699.2 470.9 698.15 471.5 699.47 472.1 698.41 472.7 699.35" fill="none" stroke="#000" stroke-width="1.4" stroke-linejoin="round"/>
<path d="M328 693.86 328.6 694.45 329.2 695.5 329.8 695.36 330.4 694.32 331 694.3 331.6 693.83 332.2 694.13 332.8 693.9 333.4 693.93 334 695.58 334.6 693.91 335.2 695.37 335.8 695.6 336.4 694.32 337 694.2 337.6 694.11 338.2 694.46 338.8 695.41 339.4 695.29 340 694.35 340.6 695.85 341.2 694.07 341.8 694.02 342.4 693.99 343 694.53 343.6 695.33 344.2 695.7 344.8 695.42 345.4 694.4 346 695.36 346.6 695.72 347.2 694.24 347.8 694.62 348.4 694.76 349 696.23 349.6 696.07 350.2 696.3 350.8 695.3 351.4 695.29 352 695.26 352.6 696.8 353.2 695.53 353.8 696.66 354.4 695.58 355 695.62 355.6 697.16 356.2 697.43 356.8 697.5 357.4 697.5 358 697.66 358.6 697.58 359.2 696.44 359.8 696.06 360.4 697.59 361 697.62 361.6 697.6 362.2 696.45 362.8 697.59 363.4 696.53 364 697.57 364.6 697.69 365.2 696.21 365.8 696.8 366.4 697.83 367 696.57 367.6 698.09 368.2 696.44 368.8 697.5 369.4 697.58 370 696.24 370.6 696.32 371.2 697.63 371.8 698.11 372.4 697.84 373 696.33 373.6 697.82 374.2 698.03 374.8 696.42 375.4 697.78 376 696.28 376.6 696.95 377.2 696.62 377.8 697.64 378.4 696.46 379 698.14 379.6 696.45 380.2 697.8 380.8 697.63 381.4 696.36 382 697.02 382.6 696.59 383.2 698.01 383.8 696.93 384.4 697.87 385 696.85 385.6 697.7 386.2 698.22 386.8 696.54 387.4 698.36 388 696.85 388.6 697.06 389.2 696.71 389.8 698.2 390.4 696.83 391 698.32 391.6 696.81 392.2 698.26 392.8 696.65 393.4 698.12 394 696.95 394.6 696.56 395.2 698.35 395.8 698.26 396.4 696.76 397 698.12 397.6 696.74 398.2 698.07 398.8 698.1 399.4 697.9 400 696.66 400.6 696.49 401.2 697.99 401.8 697.03 402.4 696.93 403 698.23 403.6 698.06 404.2 696.97 404.8 698.05 405.4 698.32 406 696.67 406.6 697.86 407.2 696.63 407.8 698.09 408.4 696.4 409 698.24 409.6 696.83 410.2 697.67 410.8 697.78 411.4 697.98 412 698.12 412.6 696.77 413.2 697.68 413.8 696.86 414.4 696.62 415 698.19 415.6 696.58 416.2 697.79 416.8 696.83 417.4 696.91 418 696.81 418.6 698.05 419.2 697.88 419.8 698.28 420.4 696.98 421 697.93 421.6 697.71 422.2 696.97 422.8 697.82 423.4 696.73 424 697.95 424.6 697.87 425.2 697.93 425.8 696.63 426.4 698.06 427 698.03 427.6 696.34 428.2 696.74 428.8 697.63 429.4 697.62 430 696.49 430.6 696.81 431.2 698.15 431.8 696.67 432.4 698.1 433 696.8 433.6 697.55 434.2 696.36 434.8 698.19 435.4 696.53 436 697.95 436.6 696.48 437.2 697.73 437.8 696.48 438.4 697.73 439 696.47 439.6 697.51 440.2 697.62 440.8 698.14 441.4 696.72 442 697.77 442.6 696.82 443.2 696.55 443.8 696.55 444.4 697.61 445 696.22 445.6 698.06 446.2 696.56 446.8 696.48 447.4 697.99 448 696.34 448.6 698.15 449.2 697.69 449.8 696.46 450.4 697.8 451 697.92 451.6 697.91 452.2 698.02 452.8 697.8 453.4 696.58 454 696.6 454.6 696.47 455.2 697.83 455.8 696.69 456.4 696.82 457 698.05 457.6 696.36 458.2 697.94 458.8 697.59 459.4 696.88 460 696.77 460.6 697.87 461.2 697.98 461.8 697.55 462.4 697.62 463 697.62 463.6 696.82 464.2 696.67 464.8 697.93 465.4 697.8 466 696.5 466.6 697.66 467.2 696.91 467.8 697.65 468.4 697.93 469 697.58 469.6 697.63 470.2 696.46 470.8 696.55 471.4 696.4 472 697.65 472.6 696.5" fill="none" stroke="#111" stroke-width="1.1" stroke-linejoin="round"/>
</svg>
</body></html>
